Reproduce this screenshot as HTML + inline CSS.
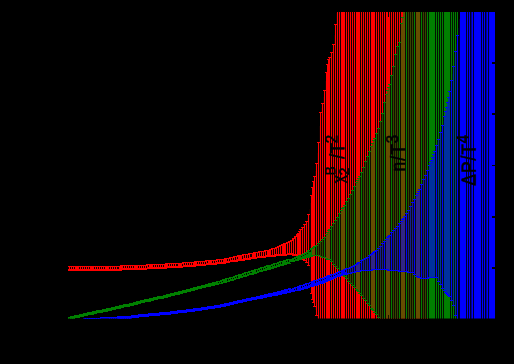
<!DOCTYPE html>
<html><head><meta charset="utf-8"><title>plot</title>
<style>html,body{margin:0;padding:0;background:#000;}body{width:514px;height:364px;overflow:hidden;font-family:"Liberation Sans",sans-serif;}</style>
</head><body>
<svg width="514" height="364" viewBox="0 0 514 364" style="display:block">
<rect width="514" height="364" fill="#000"/>
<defs><clipPath id="cp"><rect x="68" y="12" width="427" height="306.5"/></clipPath></defs>
<g clip-path="url(#cp)">
<g fill="#ff0000" stroke="none" shape-rendering="crispEdges">
<rect x="68" y="266.0" width="1" height="5.0" fill-opacity="0.08"/>
<rect x="68" y="269.0" width="1" height="2.0"/>
<rect x="68" y="266.0" width="1" height="1"/>
<rect x="69" y="266.0" width="1" height="5.0"/>
<rect x="68" y="266.0" width="3" height="1"/>
<rect x="68" y="270.0" width="3" height="1"/>
<rect x="70" y="266.0" width="1" height="5.0" fill-opacity="0.08"/>
<rect x="70" y="269.0" width="1" height="2.0"/>
<rect x="70" y="266.0" width="1" height="1"/>
<rect x="71" y="266.0" width="1" height="5.0"/>
<rect x="70" y="266.0" width="3" height="1"/>
<rect x="70" y="270.0" width="3" height="1"/>
<rect x="72" y="266.0" width="1" height="5.0" fill-opacity="0.08"/>
<rect x="72" y="269.0" width="1" height="2.0"/>
<rect x="72" y="266.0" width="1" height="1"/>
<rect x="73" y="266.0" width="1" height="5.0"/>
<rect x="72" y="266.0" width="3" height="1"/>
<rect x="72" y="270.0" width="3" height="1"/>
<rect x="74" y="266.0" width="1" height="5.0" fill-opacity="0.08"/>
<rect x="74" y="269.0" width="1" height="2.0"/>
<rect x="74" y="266.0" width="1" height="1"/>
<rect x="75" y="266.0" width="1" height="5.0"/>
<rect x="74" y="266.0" width="3" height="1"/>
<rect x="74" y="270.0" width="3" height="1"/>
<rect x="76" y="266.0" width="1" height="5.0"/>
<rect x="75" y="266.0" width="3" height="1"/>
<rect x="75" y="270.0" width="3" height="1"/>
<rect x="77" y="266.0" width="1" height="5.0"/>
<rect x="76" y="266.0" width="3" height="1"/>
<rect x="76" y="270.0" width="3" height="1"/>
<rect x="78" y="266.0" width="1" height="5.0"/>
<rect x="77" y="266.0" width="3" height="1"/>
<rect x="77" y="270.0" width="3" height="1"/>
<rect x="79" y="266.0" width="1" height="5.0" fill-opacity="0.08"/>
<rect x="79" y="269.0" width="1" height="2.0"/>
<rect x="79" y="266.0" width="1" height="1"/>
<rect x="80" y="266.0" width="1" height="5.0"/>
<rect x="79" y="266.0" width="3" height="1"/>
<rect x="79" y="270.0" width="3" height="1"/>
<rect x="81" y="266.0" width="1" height="5.0" fill-opacity="0.08"/>
<rect x="81" y="269.0" width="1" height="2.0"/>
<rect x="81" y="266.0" width="1" height="1"/>
<rect x="82" y="266.0" width="1" height="5.0"/>
<rect x="81" y="266.0" width="3" height="1"/>
<rect x="81" y="270.0" width="3" height="1"/>
<rect x="83" y="266.0" width="1" height="5.0" fill-opacity="0.08"/>
<rect x="83" y="269.0" width="1" height="2.0"/>
<rect x="83" y="266.0" width="1" height="1"/>
<rect x="84" y="266.0" width="1" height="5.0"/>
<rect x="83" y="266.0" width="3" height="1"/>
<rect x="83" y="270.0" width="3" height="1"/>
<rect x="85" y="266.0" width="1" height="5.0" fill-opacity="0.08"/>
<rect x="85" y="269.0" width="1" height="2.0"/>
<rect x="85" y="266.0" width="1" height="1"/>
<rect x="86" y="266.0" width="1" height="5.0"/>
<rect x="85" y="266.0" width="3" height="1"/>
<rect x="85" y="270.0" width="3" height="1"/>
<rect x="87" y="266.0" width="1" height="5.0" fill-opacity="0.08"/>
<rect x="87" y="269.0" width="1" height="2.0"/>
<rect x="87" y="266.0" width="1" height="1"/>
<rect x="88" y="266.0" width="1" height="5.0"/>
<rect x="87" y="266.0" width="3" height="1"/>
<rect x="87" y="270.0" width="3" height="1"/>
<rect x="89" y="266.0" width="1" height="5.0" fill-opacity="0.08"/>
<rect x="89" y="269.0" width="1" height="2.0"/>
<rect x="89" y="266.0" width="1" height="1"/>
<rect x="90" y="266.0" width="1" height="5.0"/>
<rect x="89" y="266.0" width="3" height="1"/>
<rect x="89" y="270.0" width="3" height="1"/>
<rect x="91" y="266.0" width="1" height="5.0"/>
<rect x="90" y="266.0" width="3" height="1"/>
<rect x="90" y="270.0" width="3" height="1"/>
<rect x="92" y="266.0" width="1" height="5.0"/>
<rect x="91" y="266.0" width="3" height="1"/>
<rect x="91" y="270.0" width="3" height="1"/>
<rect x="93" y="266.0" width="1" height="5.0"/>
<rect x="92" y="266.0" width="3" height="1"/>
<rect x="92" y="270.0" width="3" height="1"/>
<rect x="94" y="266.0" width="1" height="5.0" fill-opacity="0.08"/>
<rect x="94" y="269.0" width="1" height="2.0"/>
<rect x="94" y="266.0" width="1" height="1"/>
<rect x="95" y="266.0" width="1" height="5.0"/>
<rect x="94" y="266.0" width="3" height="1"/>
<rect x="94" y="270.0" width="3" height="1"/>
<rect x="96" y="266.0" width="1" height="5.0" fill-opacity="0.08"/>
<rect x="96" y="269.0" width="1" height="2.0"/>
<rect x="96" y="266.0" width="1" height="1"/>
<rect x="97" y="266.0" width="1" height="5.0"/>
<rect x="96" y="266.0" width="3" height="1"/>
<rect x="96" y="270.0" width="3" height="1"/>
<rect x="98" y="266.0" width="1" height="5.0" fill-opacity="0.08"/>
<rect x="98" y="269.0" width="1" height="2.0"/>
<rect x="98" y="266.0" width="1" height="1"/>
<rect x="99" y="266.0" width="1" height="5.0"/>
<rect x="98" y="266.0" width="3" height="1"/>
<rect x="98" y="270.0" width="3" height="1"/>
<rect x="100" y="266.0" width="1" height="5.0" fill-opacity="0.08"/>
<rect x="100" y="269.0" width="1" height="2.0"/>
<rect x="100" y="266.0" width="1" height="1"/>
<rect x="101" y="266.0" width="1" height="5.0"/>
<rect x="100" y="266.0" width="3" height="1"/>
<rect x="100" y="270.0" width="3" height="1"/>
<rect x="102" y="266.0" width="1" height="5.0" fill-opacity="0.08"/>
<rect x="102" y="269.0" width="1" height="2.0"/>
<rect x="102" y="266.0" width="1" height="1"/>
<rect x="103" y="266.0" width="1" height="5.0"/>
<rect x="102" y="266.0" width="3" height="1"/>
<rect x="102" y="270.0" width="3" height="1"/>
<rect x="104" y="266.0" width="1" height="5.0" fill-opacity="0.08"/>
<rect x="104" y="269.0" width="1" height="2.0"/>
<rect x="104" y="266.0" width="1" height="1"/>
<rect x="105" y="266.0" width="1" height="5.0"/>
<rect x="104" y="266.0" width="3" height="1"/>
<rect x="104" y="270.0" width="3" height="1"/>
<rect x="106" y="265.9" width="1" height="5.0"/>
<rect x="105" y="265.9" width="3" height="1"/>
<rect x="105" y="269.9" width="3" height="1"/>
<rect x="107" y="265.9" width="1" height="5.0"/>
<rect x="106" y="265.9" width="3" height="1"/>
<rect x="106" y="269.9" width="3" height="1"/>
<rect x="108" y="265.9" width="1" height="5.0"/>
<rect x="107" y="265.9" width="3" height="1"/>
<rect x="107" y="269.9" width="3" height="1"/>
<rect x="109" y="265.8" width="1" height="5.0" fill-opacity="0.08"/>
<rect x="109" y="268.8" width="1" height="2.0"/>
<rect x="109" y="265.8" width="1" height="1"/>
<rect x="110" y="265.8" width="1" height="5.0"/>
<rect x="109" y="265.8" width="3" height="1"/>
<rect x="109" y="269.8" width="3" height="1"/>
<rect x="111" y="265.8" width="1" height="5.0" fill-opacity="0.08"/>
<rect x="111" y="268.8" width="1" height="2.0"/>
<rect x="111" y="265.8" width="1" height="1"/>
<rect x="112" y="265.7" width="1" height="5.0"/>
<rect x="111" y="265.7" width="3" height="1"/>
<rect x="111" y="269.7" width="3" height="1"/>
<rect x="113" y="265.7" width="1" height="5.0" fill-opacity="0.08"/>
<rect x="113" y="268.7" width="1" height="2.0"/>
<rect x="113" y="265.7" width="1" height="1"/>
<rect x="114" y="265.7" width="1" height="5.0"/>
<rect x="113" y="265.7" width="3" height="1"/>
<rect x="113" y="269.7" width="3" height="1"/>
<rect x="115" y="265.6" width="1" height="5.0" fill-opacity="0.08"/>
<rect x="115" y="268.6" width="1" height="2.0"/>
<rect x="115" y="265.6" width="1" height="1"/>
<rect x="116" y="265.6" width="1" height="5.0"/>
<rect x="115" y="265.6" width="3" height="1"/>
<rect x="115" y="269.6" width="3" height="1"/>
<rect x="117" y="265.6" width="1" height="5.0" fill-opacity="0.08"/>
<rect x="117" y="268.6" width="1" height="2.0"/>
<rect x="117" y="265.6" width="1" height="1"/>
<rect x="118" y="265.5" width="1" height="5.0" fill-opacity="0.08"/>
<rect x="118" y="268.5" width="1" height="2.0"/>
<rect x="118" y="265.5" width="1" height="1"/>
<rect x="119" y="265.5" width="1" height="5.0"/>
<rect x="118" y="265.5" width="3" height="1"/>
<rect x="118" y="269.5" width="3" height="1"/>
<rect x="120" y="265.5" width="1" height="5.0"/>
<rect x="119" y="265.5" width="3" height="1"/>
<rect x="119" y="269.5" width="3" height="1"/>
<rect x="121" y="265.4" width="1" height="5.0"/>
<rect x="120" y="265.4" width="3" height="1"/>
<rect x="120" y="269.4" width="3" height="1"/>
<rect x="122" y="265.4" width="1" height="5.0"/>
<rect x="121" y="265.4" width="3" height="1"/>
<rect x="121" y="269.4" width="3" height="1"/>
<rect x="123" y="265.4" width="1" height="5.0" fill-opacity="0.08"/>
<rect x="123" y="268.4" width="1" height="2.0"/>
<rect x="123" y="265.4" width="1" height="1"/>
<rect x="124" y="265.3" width="1" height="5.0"/>
<rect x="123" y="265.3" width="3" height="1"/>
<rect x="123" y="269.3" width="3" height="1"/>
<rect x="125" y="265.3" width="1" height="5.0" fill-opacity="0.08"/>
<rect x="125" y="268.3" width="1" height="2.0"/>
<rect x="125" y="265.3" width="1" height="1"/>
<rect x="126" y="265.3" width="1" height="5.0"/>
<rect x="125" y="265.3" width="3" height="1"/>
<rect x="125" y="269.3" width="3" height="1"/>
<rect x="127" y="265.2" width="1" height="5.0" fill-opacity="0.08"/>
<rect x="127" y="268.2" width="1" height="2.0"/>
<rect x="127" y="265.2" width="1" height="1"/>
<rect x="128" y="265.2" width="1" height="5.0"/>
<rect x="127" y="265.2" width="3" height="1"/>
<rect x="127" y="269.2" width="3" height="1"/>
<rect x="129" y="265.2" width="1" height="5.0" fill-opacity="0.08"/>
<rect x="129" y="268.2" width="1" height="2.0"/>
<rect x="129" y="265.2" width="1" height="1"/>
<rect x="130" y="265.1" width="1" height="5.0"/>
<rect x="129" y="265.1" width="3" height="1"/>
<rect x="129" y="269.1" width="3" height="1"/>
<rect x="131" y="265.1" width="1" height="5.0" fill-opacity="0.08"/>
<rect x="131" y="268.1" width="1" height="2.0"/>
<rect x="131" y="265.1" width="1" height="1"/>
<rect x="132" y="265.1" width="1" height="5.0"/>
<rect x="131" y="265.1" width="3" height="1"/>
<rect x="131" y="269.1" width="3" height="1"/>
<rect x="133" y="265.0" width="1" height="5.0" fill-opacity="0.08"/>
<rect x="133" y="268.0" width="1" height="2.0"/>
<rect x="133" y="265.0" width="1" height="1"/>
<rect x="134" y="265.0" width="1" height="5.0"/>
<rect x="133" y="265.0" width="3" height="1"/>
<rect x="133" y="269.0" width="3" height="1"/>
<rect x="135" y="265.0" width="1" height="5.0"/>
<rect x="134" y="265.0" width="3" height="1"/>
<rect x="134" y="269.0" width="3" height="1"/>
<rect x="136" y="264.9" width="1" height="5.0"/>
<rect x="135" y="264.9" width="3" height="1"/>
<rect x="135" y="268.9" width="3" height="1"/>
<rect x="137" y="264.9" width="1" height="5.0"/>
<rect x="136" y="264.9" width="3" height="1"/>
<rect x="136" y="268.9" width="3" height="1"/>
<rect x="138" y="264.9" width="1" height="5.0" fill-opacity="0.08"/>
<rect x="138" y="267.9" width="1" height="2.0"/>
<rect x="138" y="264.9" width="1" height="1"/>
<rect x="139" y="264.8" width="1" height="5.0"/>
<rect x="138" y="264.8" width="3" height="1"/>
<rect x="138" y="268.8" width="3" height="1"/>
<rect x="140" y="264.8" width="1" height="5.0" fill-opacity="0.08"/>
<rect x="140" y="267.8" width="1" height="2.0"/>
<rect x="140" y="264.8" width="1" height="1"/>
<rect x="141" y="264.7" width="1" height="5.0"/>
<rect x="140" y="264.7" width="3" height="1"/>
<rect x="140" y="268.7" width="3" height="1"/>
<rect x="142" y="264.7" width="1" height="5.0" fill-opacity="0.08"/>
<rect x="142" y="267.7" width="1" height="2.0"/>
<rect x="142" y="264.7" width="1" height="1"/>
<rect x="143" y="264.6" width="1" height="5.0"/>
<rect x="142" y="264.6" width="3" height="1"/>
<rect x="142" y="268.6" width="3" height="1"/>
<rect x="144" y="264.6" width="1" height="5.0" fill-opacity="0.08"/>
<rect x="144" y="267.6" width="1" height="2.0"/>
<rect x="144" y="264.6" width="1" height="1"/>
<rect x="145" y="264.5" width="1" height="5.0"/>
<rect x="144" y="264.5" width="3" height="1"/>
<rect x="144" y="268.5" width="3" height="1"/>
<rect x="146" y="264.5" width="1" height="5.0" fill-opacity="0.08"/>
<rect x="146" y="267.5" width="1" height="2.0"/>
<rect x="146" y="264.5" width="1" height="1"/>
<rect x="147" y="264.4" width="1" height="5.0"/>
<rect x="146" y="264.4" width="3" height="1"/>
<rect x="146" y="268.4" width="3" height="1"/>
<rect x="148" y="264.4" width="1" height="5.0" fill-opacity="0.08"/>
<rect x="148" y="267.4" width="1" height="2.0"/>
<rect x="148" y="264.4" width="1" height="1"/>
<rect x="149" y="264.3" width="1" height="5.0"/>
<rect x="148" y="264.3" width="3" height="1"/>
<rect x="148" y="268.3" width="3" height="1"/>
<rect x="150" y="264.3" width="1" height="5.0"/>
<rect x="149" y="264.3" width="3" height="1"/>
<rect x="149" y="268.3" width="3" height="1"/>
<rect x="151" y="264.2" width="1" height="5.0"/>
<rect x="150" y="264.2" width="3" height="1"/>
<rect x="150" y="268.2" width="3" height="1"/>
<rect x="152" y="264.2" width="1" height="5.0"/>
<rect x="151" y="264.2" width="3" height="1"/>
<rect x="151" y="268.2" width="3" height="1"/>
<rect x="153" y="264.1" width="1" height="5.0" fill-opacity="0.08"/>
<rect x="153" y="267.1" width="1" height="2.0"/>
<rect x="153" y="264.1" width="1" height="1"/>
<rect x="154" y="264.1" width="1" height="5.0"/>
<rect x="153" y="264.1" width="3" height="1"/>
<rect x="153" y="268.1" width="3" height="1"/>
<rect x="155" y="264.0" width="1" height="5.0" fill-opacity="0.08"/>
<rect x="155" y="267.0" width="1" height="2.0"/>
<rect x="155" y="264.0" width="1" height="1"/>
<rect x="156" y="263.9" width="1" height="5.0"/>
<rect x="155" y="263.9" width="3" height="1"/>
<rect x="155" y="267.9" width="3" height="1"/>
<rect x="157" y="263.9" width="1" height="5.0" fill-opacity="0.08"/>
<rect x="157" y="266.9" width="1" height="2.0"/>
<rect x="157" y="263.9" width="1" height="1"/>
<rect x="158" y="263.8" width="1" height="5.0"/>
<rect x="157" y="263.8" width="3" height="1"/>
<rect x="157" y="267.8" width="3" height="1"/>
<rect x="159" y="263.8" width="1" height="5.0" fill-opacity="0.08"/>
<rect x="159" y="266.8" width="1" height="2.0"/>
<rect x="159" y="263.8" width="1" height="1"/>
<rect x="160" y="263.7" width="1" height="5.0"/>
<rect x="159" y="263.7" width="3" height="1"/>
<rect x="159" y="267.7" width="3" height="1"/>
<rect x="161" y="263.7" width="1" height="5.0" fill-opacity="0.08"/>
<rect x="161" y="266.7" width="1" height="2.0"/>
<rect x="161" y="263.7" width="1" height="1"/>
<rect x="162" y="263.6" width="1" height="5.0"/>
<rect x="161" y="263.6" width="3" height="1"/>
<rect x="161" y="267.6" width="3" height="1"/>
<rect x="163" y="263.6" width="1" height="5.0" fill-opacity="0.08"/>
<rect x="163" y="266.6" width="1" height="2.0"/>
<rect x="163" y="263.6" width="1" height="1"/>
<rect x="164" y="263.5" width="1" height="5.0"/>
<rect x="163" y="263.5" width="3" height="1"/>
<rect x="163" y="267.5" width="3" height="1"/>
<rect x="165" y="263.5" width="1" height="5.0"/>
<rect x="164" y="263.5" width="3" height="1"/>
<rect x="164" y="267.5" width="3" height="1"/>
<rect x="166" y="263.4" width="1" height="5.0"/>
<rect x="165" y="263.4" width="3" height="1"/>
<rect x="165" y="267.4" width="3" height="1"/>
<rect x="167" y="263.4" width="1" height="5.0"/>
<rect x="166" y="263.4" width="3" height="1"/>
<rect x="166" y="267.4" width="3" height="1"/>
<rect x="168" y="263.3" width="1" height="5.0" fill-opacity="0.08"/>
<rect x="168" y="266.3" width="1" height="2.0"/>
<rect x="168" y="263.3" width="1" height="1"/>
<rect x="169" y="263.3" width="1" height="5.0"/>
<rect x="168" y="263.3" width="3" height="1"/>
<rect x="168" y="267.3" width="3" height="1"/>
<rect x="170" y="263.2" width="1" height="5.0" fill-opacity="0.08"/>
<rect x="170" y="266.2" width="1" height="2.0"/>
<rect x="170" y="263.2" width="1" height="1"/>
<rect x="171" y="263.1" width="1" height="5.0"/>
<rect x="170" y="263.1" width="3" height="1"/>
<rect x="170" y="267.1" width="3" height="1"/>
<rect x="172" y="263.1" width="1" height="5.0" fill-opacity="0.08"/>
<rect x="172" y="266.1" width="1" height="2.0"/>
<rect x="172" y="263.1" width="1" height="1"/>
<rect x="173" y="263.0" width="1" height="5.0"/>
<rect x="172" y="263.0" width="3" height="1"/>
<rect x="172" y="267.0" width="3" height="1"/>
<rect x="174" y="263.0" width="1" height="5.0" fill-opacity="0.08"/>
<rect x="174" y="266.0" width="1" height="2.0"/>
<rect x="174" y="263.0" width="1" height="1"/>
<rect x="175" y="262.9" width="1" height="5.0"/>
<rect x="174" y="262.9" width="3" height="1"/>
<rect x="174" y="266.9" width="3" height="1"/>
<rect x="176" y="262.8" width="1" height="5.0" fill-opacity="0.08"/>
<rect x="176" y="265.8" width="1" height="2.0"/>
<rect x="176" y="262.8" width="1" height="1"/>
<rect x="177" y="262.8" width="1" height="5.0" fill-opacity="0.08"/>
<rect x="177" y="265.8" width="1" height="2.0"/>
<rect x="177" y="262.8" width="1" height="1"/>
<rect x="178" y="262.7" width="1" height="5.0"/>
<rect x="177" y="262.7" width="3" height="1"/>
<rect x="177" y="266.7" width="3" height="1"/>
<rect x="179" y="262.6" width="1" height="5.0"/>
<rect x="178" y="262.6" width="3" height="1"/>
<rect x="178" y="266.6" width="3" height="1"/>
<rect x="180" y="262.6" width="1" height="5.0"/>
<rect x="179" y="262.6" width="3" height="1"/>
<rect x="179" y="266.6" width="3" height="1"/>
<rect x="181" y="262.5" width="1" height="5.0"/>
<rect x="180" y="262.5" width="3" height="1"/>
<rect x="180" y="266.5" width="3" height="1"/>
<rect x="182" y="262.5" width="1" height="5.0" fill-opacity="0.08"/>
<rect x="182" y="265.5" width="1" height="2.0"/>
<rect x="182" y="262.5" width="1" height="1"/>
<rect x="183" y="262.4" width="1" height="5.0"/>
<rect x="182" y="262.4" width="3" height="1"/>
<rect x="182" y="266.4" width="3" height="1"/>
<rect x="184" y="262.3" width="1" height="5.0" fill-opacity="0.08"/>
<rect x="184" y="265.3" width="1" height="2.0"/>
<rect x="184" y="262.3" width="1" height="1"/>
<rect x="185" y="262.3" width="1" height="5.0"/>
<rect x="184" y="262.3" width="3" height="1"/>
<rect x="184" y="266.3" width="3" height="1"/>
<rect x="186" y="262.2" width="1" height="5.0" fill-opacity="0.08"/>
<rect x="186" y="265.2" width="1" height="2.0"/>
<rect x="186" y="262.2" width="1" height="1"/>
<rect x="187" y="262.2" width="1" height="5.0"/>
<rect x="186" y="262.2" width="3" height="1"/>
<rect x="186" y="266.2" width="3" height="1"/>
<rect x="188" y="262.1" width="1" height="5.0" fill-opacity="0.08"/>
<rect x="188" y="265.1" width="1" height="2.0"/>
<rect x="188" y="262.1" width="1" height="1"/>
<rect x="189" y="262.0" width="1" height="5.0"/>
<rect x="188" y="262.0" width="3" height="1"/>
<rect x="188" y="266.0" width="3" height="1"/>
<rect x="190" y="261.9" width="1" height="5.0" fill-opacity="0.08"/>
<rect x="190" y="264.9" width="1" height="2.0"/>
<rect x="190" y="261.9" width="1" height="1"/>
<rect x="191" y="261.9" width="1" height="5.0"/>
<rect x="190" y="261.9" width="3" height="1"/>
<rect x="190" y="265.9" width="3" height="1"/>
<rect x="192" y="261.8" width="1" height="5.0" fill-opacity="0.08"/>
<rect x="192" y="264.8" width="1" height="2.0"/>
<rect x="192" y="261.8" width="1" height="1"/>
<rect x="193" y="261.6" width="1" height="5.0"/>
<rect x="192" y="261.6" width="3" height="1"/>
<rect x="192" y="265.6" width="3" height="1"/>
<rect x="194" y="261.6" width="1" height="5.0"/>
<rect x="193" y="261.6" width="3" height="1"/>
<rect x="193" y="265.6" width="3" height="1"/>
<rect x="195" y="261.4" width="1" height="5.0"/>
<rect x="194" y="261.4" width="3" height="1"/>
<rect x="194" y="265.4" width="3" height="1"/>
<rect x="196" y="261.4" width="1" height="5.0"/>
<rect x="195" y="261.4" width="3" height="1"/>
<rect x="195" y="265.4" width="3" height="1"/>
<rect x="197" y="261.2" width="1" height="5.0" fill-opacity="0.08"/>
<rect x="197" y="264.2" width="1" height="2.0"/>
<rect x="197" y="261.2" width="1" height="1"/>
<rect x="198" y="261.1" width="1" height="5.0"/>
<rect x="197" y="261.1" width="3" height="1"/>
<rect x="197" y="265.1" width="3" height="1"/>
<rect x="199" y="261.1" width="1" height="5.0" fill-opacity="0.08"/>
<rect x="199" y="264.1" width="1" height="2.0"/>
<rect x="199" y="261.1" width="1" height="1"/>
<rect x="200" y="261.0" width="1" height="5.0"/>
<rect x="199" y="261.0" width="3" height="1"/>
<rect x="199" y="265.0" width="3" height="1"/>
<rect x="201" y="260.9" width="1" height="5.0" fill-opacity="0.08"/>
<rect x="201" y="263.9" width="1" height="2.0"/>
<rect x="201" y="260.9" width="1" height="1"/>
<rect x="202" y="260.8" width="1" height="5.0"/>
<rect x="201" y="260.8" width="3" height="1"/>
<rect x="201" y="264.8" width="3" height="1"/>
<rect x="203" y="260.7" width="1" height="5.0" fill-opacity="0.08"/>
<rect x="203" y="263.7" width="1" height="2.0"/>
<rect x="203" y="260.7" width="1" height="1"/>
<rect x="204" y="260.6" width="1" height="5.0"/>
<rect x="203" y="260.6" width="3" height="1"/>
<rect x="203" y="264.6" width="3" height="1"/>
<rect x="205" y="260.5" width="1" height="5.0" fill-opacity="0.08"/>
<rect x="205" y="263.5" width="1" height="2.0"/>
<rect x="205" y="260.5" width="1" height="1"/>
<rect x="206" y="260.4" width="1" height="5.0"/>
<rect x="205" y="260.4" width="3" height="1"/>
<rect x="205" y="264.4" width="3" height="1"/>
<rect x="207" y="260.3" width="1" height="5.0" fill-opacity="0.08"/>
<rect x="207" y="263.3" width="1" height="2.0"/>
<rect x="207" y="260.3" width="1" height="1"/>
<rect x="208" y="260.2" width="1" height="5.0"/>
<rect x="207" y="260.2" width="3" height="1"/>
<rect x="207" y="264.2" width="3" height="1"/>
<rect x="209" y="260.1" width="1" height="5.0"/>
<rect x="208" y="260.1" width="3" height="1"/>
<rect x="208" y="264.1" width="3" height="1"/>
<rect x="210" y="260.0" width="1" height="5.0"/>
<rect x="209" y="260.0" width="3" height="1"/>
<rect x="209" y="264.0" width="3" height="1"/>
<rect x="211" y="259.9" width="1" height="5.0"/>
<rect x="210" y="259.9" width="3" height="1"/>
<rect x="210" y="263.9" width="3" height="1"/>
<rect x="212" y="259.8" width="1" height="5.0" fill-opacity="0.08"/>
<rect x="212" y="262.8" width="1" height="2.0"/>
<rect x="212" y="259.8" width="1" height="1"/>
<rect x="213" y="259.7" width="1" height="5.0"/>
<rect x="212" y="259.7" width="3" height="1"/>
<rect x="212" y="263.7" width="3" height="1"/>
<rect x="214" y="259.6" width="1" height="5.0" fill-opacity="0.08"/>
<rect x="214" y="262.6" width="1" height="2.0"/>
<rect x="214" y="259.6" width="1" height="1"/>
<rect x="215" y="259.5" width="1" height="5.0"/>
<rect x="214" y="259.5" width="3" height="1"/>
<rect x="214" y="263.5" width="3" height="1"/>
<rect x="216" y="259.4" width="1" height="5.0" fill-opacity="0.08"/>
<rect x="216" y="262.4" width="1" height="2.0"/>
<rect x="216" y="259.4" width="1" height="1"/>
<rect x="217" y="259.3" width="1" height="5.0"/>
<rect x="216" y="259.3" width="3" height="1"/>
<rect x="216" y="263.3" width="3" height="1"/>
<rect x="218" y="259.2" width="1" height="5.0" fill-opacity="0.08"/>
<rect x="218" y="262.2" width="1" height="2.0"/>
<rect x="218" y="259.2" width="1" height="1"/>
<rect x="219" y="259.1" width="1" height="5.0"/>
<rect x="218" y="259.1" width="3" height="1"/>
<rect x="218" y="263.1" width="3" height="1"/>
<rect x="220" y="259.0" width="1" height="5.0" fill-opacity="0.08"/>
<rect x="220" y="262.0" width="1" height="2.0"/>
<rect x="220" y="259.0" width="1" height="1"/>
<rect x="221" y="258.9" width="1" height="5.0"/>
<rect x="220" y="258.9" width="3" height="1"/>
<rect x="220" y="262.9" width="3" height="1"/>
<rect x="222" y="258.8" width="1" height="5.0" fill-opacity="0.08"/>
<rect x="222" y="261.8" width="1" height="2.0"/>
<rect x="222" y="258.8" width="1" height="1"/>
<rect x="223" y="258.6" width="1" height="5.0"/>
<rect x="222" y="258.6" width="3" height="1"/>
<rect x="222" y="262.6" width="3" height="1"/>
<rect x="224" y="258.5" width="1" height="5.0"/>
<rect x="223" y="258.5" width="3" height="1"/>
<rect x="223" y="262.5" width="3" height="1"/>
<rect x="225" y="258.3" width="1" height="5.0"/>
<rect x="224" y="258.3" width="3" height="1"/>
<rect x="224" y="262.3" width="3" height="1"/>
<rect x="226" y="258.2" width="1" height="5.0"/>
<rect x="225" y="258.2" width="3" height="1"/>
<rect x="225" y="262.2" width="3" height="1"/>
<rect x="227" y="258.1" width="1" height="5.0" fill-opacity="0.08"/>
<rect x="227" y="261.1" width="1" height="2.0"/>
<rect x="227" y="258.1" width="1" height="1"/>
<rect x="228" y="257.9" width="1" height="5.0"/>
<rect x="227" y="257.9" width="3" height="1"/>
<rect x="227" y="261.9" width="3" height="1"/>
<rect x="229" y="257.8" width="1" height="5.0" fill-opacity="0.08"/>
<rect x="229" y="260.8" width="1" height="2.0"/>
<rect x="229" y="257.8" width="1" height="1"/>
<rect x="230" y="256.9" width="1" height="5.5"/>
<rect x="229" y="256.9" width="3" height="1"/>
<rect x="229" y="261.4" width="3" height="1"/>
<rect x="231" y="256.7" width="1" height="5.6" fill-opacity="0.08"/>
<rect x="231" y="260.3" width="1" height="2.0"/>
<rect x="231" y="256.7" width="1" height="1"/>
<rect x="232" y="256.5" width="1" height="5.6"/>
<rect x="231" y="256.5" width="3" height="1"/>
<rect x="231" y="261.1" width="3" height="1"/>
<rect x="233" y="256.3" width="1" height="5.6" fill-opacity="0.08"/>
<rect x="233" y="260.0" width="1" height="2.0"/>
<rect x="233" y="256.3" width="1" height="1"/>
<rect x="234" y="256.1" width="1" height="5.7"/>
<rect x="233" y="256.1" width="3" height="1"/>
<rect x="233" y="260.8" width="3" height="1"/>
<rect x="235" y="256.0" width="1" height="5.7" fill-opacity="0.08"/>
<rect x="235" y="259.7" width="1" height="2.0"/>
<rect x="235" y="256.0" width="1" height="1"/>
<rect x="236" y="255.8" width="1" height="5.8"/>
<rect x="235" y="255.8" width="3" height="1"/>
<rect x="235" y="260.5" width="3" height="1"/>
<rect x="237" y="255.6" width="1" height="5.8" fill-opacity="0.08"/>
<rect x="237" y="259.4" width="1" height="2.0"/>
<rect x="237" y="255.6" width="1" height="1"/>
<rect x="238" y="255.4" width="1" height="5.8"/>
<rect x="237" y="255.4" width="3" height="1"/>
<rect x="237" y="260.2" width="3" height="1"/>
<rect x="239" y="255.2" width="1" height="5.9"/>
<rect x="238" y="255.2" width="3" height="1"/>
<rect x="238" y="260.1" width="3" height="1"/>
<rect x="240" y="255.0" width="1" height="5.9"/>
<rect x="239" y="255.0" width="3" height="1"/>
<rect x="239" y="259.9" width="3" height="1"/>
<rect x="241" y="254.8" width="1" height="6.0"/>
<rect x="240" y="254.8" width="3" height="1"/>
<rect x="240" y="259.8" width="3" height="1"/>
<rect x="242" y="254.6" width="1" height="6.0" fill-opacity="0.08"/>
<rect x="242" y="258.6" width="1" height="2.0"/>
<rect x="242" y="254.6" width="1" height="1"/>
<rect x="243" y="254.4" width="1" height="6.0"/>
<rect x="242" y="254.4" width="3" height="1"/>
<rect x="242" y="259.5" width="3" height="1"/>
<rect x="244" y="254.2" width="1" height="6.1" fill-opacity="0.08"/>
<rect x="244" y="258.3" width="1" height="2.0"/>
<rect x="244" y="254.2" width="1" height="1"/>
<rect x="245" y="254.1" width="1" height="6.1"/>
<rect x="244" y="254.1" width="3" height="1"/>
<rect x="244" y="259.2" width="3" height="1"/>
<rect x="246" y="253.9" width="1" height="6.2" fill-opacity="0.08"/>
<rect x="246" y="258.0" width="1" height="2.0"/>
<rect x="246" y="253.9" width="1" height="1"/>
<rect x="247" y="253.7" width="1" height="6.2"/>
<rect x="246" y="253.7" width="3" height="1"/>
<rect x="246" y="258.9" width="3" height="1"/>
<rect x="248" y="253.5" width="1" height="6.2" fill-opacity="0.08"/>
<rect x="248" y="257.7" width="1" height="2.0"/>
<rect x="248" y="253.5" width="1" height="1"/>
<rect x="249" y="253.3" width="1" height="6.3"/>
<rect x="248" y="253.3" width="3" height="1"/>
<rect x="248" y="258.6" width="3" height="1"/>
<rect x="250" y="253.1" width="1" height="6.3" fill-opacity="0.08"/>
<rect x="250" y="257.4" width="1" height="2.0"/>
<rect x="250" y="253.1" width="1" height="1"/>
<rect x="251" y="252.9" width="1" height="6.4" fill-opacity="0.08"/>
<rect x="251" y="257.3" width="1" height="2.0"/>
<rect x="251" y="252.9" width="1" height="1"/>
<rect x="252" y="252.7" width="1" height="6.4"/>
<rect x="251" y="252.7" width="3" height="1"/>
<rect x="251" y="258.1" width="3" height="1"/>
<rect x="253" y="252.5" width="1" height="6.4"/>
<rect x="252" y="252.5" width="3" height="1"/>
<rect x="252" y="258.0" width="3" height="1"/>
<rect x="254" y="252.3" width="1" height="6.5"/>
<rect x="253" y="252.3" width="3" height="1"/>
<rect x="253" y="257.8" width="3" height="1"/>
<rect x="255" y="252.2" width="1" height="6.5"/>
<rect x="254" y="252.2" width="3" height="1"/>
<rect x="254" y="257.7" width="3" height="1"/>
<rect x="256" y="252.0" width="1" height="6.6" fill-opacity="0.08"/>
<rect x="256" y="256.5" width="1" height="2.0"/>
<rect x="256" y="252.0" width="1" height="1"/>
<rect x="257" y="251.8" width="1" height="6.6"/>
<rect x="256" y="251.8" width="3" height="1"/>
<rect x="256" y="257.4" width="3" height="1"/>
<rect x="258" y="251.6" width="1" height="6.6" fill-opacity="0.08"/>
<rect x="258" y="256.2" width="1" height="2.0"/>
<rect x="258" y="251.6" width="1" height="1"/>
<rect x="259" y="251.4" width="1" height="6.7"/>
<rect x="258" y="251.4" width="3" height="1"/>
<rect x="258" y="257.1" width="3" height="1"/>
<rect x="260" y="251.2" width="1" height="6.7" fill-opacity="0.08"/>
<rect x="260" y="255.9" width="1" height="2.0"/>
<rect x="260" y="251.2" width="1" height="1"/>
<rect x="261" y="251.0" width="1" height="6.8"/>
<rect x="260" y="251.0" width="3" height="1"/>
<rect x="260" y="256.9" width="3" height="1"/>
<rect x="262" y="250.8" width="1" height="6.9" fill-opacity="0.08"/>
<rect x="262" y="255.8" width="1" height="2.0"/>
<rect x="262" y="250.8" width="1" height="1"/>
<rect x="263" y="250.6" width="1" height="7.0"/>
<rect x="262" y="250.6" width="3" height="1"/>
<rect x="262" y="256.6" width="3" height="1"/>
<rect x="264" y="250.4" width="1" height="7.1" fill-opacity="0.08"/>
<rect x="264" y="255.6" width="1" height="2.0"/>
<rect x="264" y="250.4" width="1" height="1"/>
<rect x="265" y="250.3" width="1" height="7.2"/>
<rect x="264" y="250.3" width="3" height="1"/>
<rect x="264" y="256.4" width="3" height="1"/>
<rect x="266" y="250.1" width="1" height="7.3" fill-opacity="0.08"/>
<rect x="266" y="255.4" width="1" height="2.0"/>
<rect x="266" y="250.1" width="1" height="1"/>
<rect x="267" y="249.9" width="1" height="7.4"/>
<rect x="266" y="249.9" width="3" height="1"/>
<rect x="266" y="256.2" width="3" height="1"/>
<rect x="268" y="249.7" width="1" height="7.5"/>
<rect x="267" y="249.7" width="3" height="1"/>
<rect x="267" y="256.1" width="3" height="1"/>
<rect x="269" y="249.5" width="1" height="7.6"/>
<rect x="268" y="249.5" width="3" height="1"/>
<rect x="268" y="256.1" width="3" height="1"/>
<rect x="270" y="249.2" width="1" height="7.7"/>
<rect x="269" y="249.2" width="3" height="1"/>
<rect x="269" y="255.9" width="3" height="1"/>
<rect x="271" y="248.8" width="1" height="8.0" fill-opacity="0.08"/>
<rect x="271" y="254.9" width="1" height="2.0"/>
<rect x="271" y="248.8" width="1" height="1"/>
<rect x="272" y="248.4" width="1" height="8.3"/>
<rect x="271" y="248.4" width="3" height="1"/>
<rect x="271" y="255.8" width="3" height="1"/>
<rect x="273" y="248.1" width="1" height="8.6" fill-opacity="0.08"/>
<rect x="273" y="254.6" width="1" height="2.0"/>
<rect x="273" y="248.1" width="1" height="1"/>
<rect x="274" y="247.7" width="1" height="8.9"/>
<rect x="273" y="247.7" width="3" height="1"/>
<rect x="273" y="255.6" width="3" height="1"/>
<rect x="275" y="247.3" width="1" height="9.1" fill-opacity="0.08"/>
<rect x="275" y="254.4" width="1" height="2.0"/>
<rect x="275" y="247.3" width="1" height="1"/>
<rect x="276" y="246.9" width="1" height="9.4"/>
<rect x="275" y="246.9" width="3" height="1"/>
<rect x="275" y="255.3" width="3" height="1"/>
<rect x="277" y="246.6" width="1" height="9.7" fill-opacity="0.08"/>
<rect x="277" y="254.2" width="1" height="2.0"/>
<rect x="277" y="246.6" width="1" height="1"/>
<rect x="278" y="246.2" width="1" height="10.0"/>
<rect x="277" y="246.2" width="3" height="1"/>
<rect x="277" y="255.2" width="3" height="1"/>
<rect x="279" y="245.8" width="1" height="10.3" fill-opacity="0.08"/>
<rect x="279" y="254.1" width="1" height="2.0"/>
<rect x="279" y="245.8" width="1" height="1"/>
<rect x="280" y="245.4" width="1" height="10.6"/>
<rect x="279" y="245.4" width="3" height="1"/>
<rect x="279" y="255.0" width="3" height="1"/>
<rect x="281" y="244.9" width="1" height="11.0" fill-opacity="0.08"/>
<rect x="281" y="253.9" width="1" height="2.0"/>
<rect x="281" y="244.9" width="1" height="1"/>
<rect x="282" y="244.4" width="1" height="11.4"/>
<rect x="281" y="244.4" width="3" height="1"/>
<rect x="281" y="254.8" width="3" height="1"/>
<rect x="283" y="243.9" width="1" height="11.8"/>
<rect x="282" y="243.9" width="3" height="1"/>
<rect x="282" y="254.7" width="3" height="1"/>
<rect x="284" y="243.4" width="1" height="12.2"/>
<rect x="283" y="243.4" width="3" height="1"/>
<rect x="283" y="254.6" width="3" height="1"/>
<rect x="285" y="243.0" width="1" height="12.6"/>
<rect x="284" y="243.0" width="3" height="1"/>
<rect x="284" y="254.6" width="3" height="1"/>
<rect x="286" y="242.5" width="1" height="13.0" fill-opacity="0.08"/>
<rect x="286" y="253.5" width="1" height="2.0"/>
<rect x="286" y="242.5" width="1" height="1"/>
<rect x="287" y="242.0" width="1" height="13.4"/>
<rect x="286" y="242.0" width="3" height="1"/>
<rect x="286" y="254.4" width="3" height="1"/>
<rect x="288" y="241.5" width="1" height="13.8" fill-opacity="0.08"/>
<rect x="288" y="253.3" width="1" height="2.0"/>
<rect x="288" y="241.5" width="1" height="1"/>
<rect x="289" y="241.0" width="1" height="14.2"/>
<rect x="288" y="241.0" width="3" height="1"/>
<rect x="288" y="254.2" width="3" height="1"/>
<rect x="290" y="240.4" width="1" height="14.8" fill-opacity="0.08"/>
<rect x="290" y="253.2" width="1" height="2.0"/>
<rect x="290" y="240.4" width="1" height="1"/>
<rect x="291" y="239.7" width="1" height="15.7"/>
<rect x="290" y="239.7" width="3" height="1"/>
<rect x="290" y="254.3" width="3" height="1"/>
<rect x="292" y="238.9" width="1" height="16.5" fill-opacity="0.08"/>
<rect x="292" y="253.4" width="1" height="2.0"/>
<rect x="292" y="238.9" width="1" height="1"/>
<rect x="293" y="238.1" width="1" height="17.3"/>
<rect x="292" y="238.1" width="3" height="1"/>
<rect x="292" y="254.5" width="3" height="1"/>
<rect x="294" y="237.4" width="1" height="18.2" fill-opacity="0.08"/>
<rect x="294" y="253.6" width="1" height="2.0"/>
<rect x="294" y="237.4" width="1" height="1"/>
<rect x="295" y="236.4" width="1" height="19.5"/>
<rect x="294" y="236.4" width="3" height="1"/>
<rect x="294" y="254.8" width="3" height="1"/>
<rect x="296" y="235.1" width="1" height="21.2" fill-opacity="0.08"/>
<rect x="296" y="254.3" width="1" height="2.0"/>
<rect x="296" y="235.1" width="1" height="1"/>
<rect x="297" y="233.8" width="1" height="23.0"/>
<rect x="296" y="233.8" width="3" height="1"/>
<rect x="296" y="255.8" width="3" height="1"/>
<rect x="298" y="232.5" width="1" height="24.8"/>
<rect x="297" y="232.5" width="3" height="1"/>
<rect x="297" y="256.3" width="3" height="1"/>
<rect x="299" y="230.9" width="1" height="26.9"/>
<rect x="298" y="230.9" width="3" height="1"/>
<rect x="298" y="256.8" width="3" height="1"/>
<rect x="300" y="229.8" width="1" height="28.1"/>
<rect x="299" y="229.3" width="3" height="1"/>
<rect x="299" y="257.4" width="3" height="1"/>
<rect x="301" y="228.4" width="1" height="30.2" fill-opacity="0.08"/>
<rect x="302" y="227.1" width="1" height="32.2"/>
<rect x="301" y="226.6" width="3" height="1"/>
<rect x="301" y="258.8" width="3" height="1"/>
<rect x="303" y="225.8" width="1" height="34.2" fill-opacity="0.08"/>
<rect x="304" y="224.5" width="1" height="36.3"/>
<rect x="303" y="224.0" width="3" height="1"/>
<rect x="303" y="260.3" width="3" height="1"/>
<rect x="305" y="223.0" width="1" height="38.7" fill-opacity="0.08"/>
<rect x="306" y="221.4" width="1" height="41.2"/>
<rect x="305" y="220.9" width="3" height="1"/>
<rect x="305" y="262.1" width="3" height="1"/>
<rect x="307" y="218.4" width="1" height="45.3" fill-opacity="0.08"/>
<rect x="308" y="214.2" width="1" height="51.1"/>
<rect x="307" y="213.7" width="3" height="1"/>
<rect x="307" y="264.8" width="3" height="1"/>
<rect x="309" y="208.9" width="1" height="60.6" fill-opacity="0.08"/>
<rect x="310" y="202.6" width="1" height="78.9" fill-opacity="0.08"/>
<rect x="311" y="195.1" width="1" height="97.9"/>
<rect x="310" y="194.6" width="3" height="1"/>
<rect x="310" y="292.5" width="3" height="1"/>
<rect x="312" y="187.4" width="1" height="111.6"/>
<rect x="311" y="186.9" width="3" height="1"/>
<rect x="311" y="298.5" width="3" height="1"/>
<rect x="313" y="181.0" width="1" height="121.7"/>
<rect x="312" y="180.5" width="3" height="1"/>
<rect x="312" y="302.2" width="3" height="1"/>
<rect x="314" y="176.0" width="1" height="130.4"/>
<rect x="313" y="175.5" width="3" height="1"/>
<rect x="313" y="305.9" width="3" height="1"/>
<rect x="315" y="171.0" width="1" height="139.1" fill-opacity="0.08"/>
<rect x="316" y="163.2" width="1" height="152.0"/>
<rect x="315" y="162.8" width="3" height="1"/>
<rect x="315" y="314.8" width="3" height="1"/>
<rect x="317" y="152.8" width="1" height="168.2" fill-opacity="0.08"/>
<rect x="318" y="142.2" width="1" height="178.8"/>
<rect x="317" y="141.8" width="3" height="1"/>
<rect x="319" y="125.5" width="1" height="195.5" fill-opacity="0.08"/>
<rect x="320" y="112.0" width="1" height="209.0"/>
<rect x="319" y="111.5" width="3" height="1"/>
<rect x="321" y="108.0" width="1" height="213.0" fill-opacity="0.08"/>
<rect x="322" y="103.2" width="1" height="217.8"/>
<rect x="321" y="102.7" width="3" height="1"/>
<rect x="323" y="97.4" width="1" height="223.6" fill-opacity="0.08"/>
<rect x="324" y="90.0" width="1" height="231.0"/>
<rect x="323" y="89.5" width="3" height="1"/>
<rect x="325" y="80.8" width="1" height="240.2" fill-opacity="0.08"/>
<rect x="326" y="72.6" width="1" height="248.4"/>
<rect x="325" y="72.1" width="3" height="1"/>
<rect x="327" y="64.7" width="1" height="256.3"/>
<rect x="326" y="64.2" width="3" height="1"/>
<rect x="328" y="59.5" width="1" height="261.5"/>
<rect x="327" y="59.0" width="3" height="1"/>
<rect x="329" y="57.1" width="1" height="263.9"/>
<rect x="328" y="56.6" width="3" height="1"/>
<rect x="330" y="54.7" width="1" height="266.3" fill-opacity="0.08"/>
<rect x="331" y="52.4" width="1" height="268.6"/>
<rect x="330" y="51.9" width="3" height="1"/>
<rect x="332" y="50.1" width="1" height="270.9" fill-opacity="0.08"/>
<rect x="333" y="44.3" width="1" height="276.7"/>
<rect x="332" y="43.8" width="3" height="1"/>
<rect x="334" y="34.9" width="1" height="286.1" fill-opacity="0.08"/>
<rect x="335" y="24.3" width="1" height="296.7"/>
<rect x="334" y="23.8" width="3" height="1"/>
<rect x="336" y="13.4" width="1" height="307.6" fill-opacity="0.08"/>
<rect x="337" y="10.0" width="1" height="311.0"/>
<rect x="338" y="10.0" width="1" height="311.0" fill-opacity="0.08"/>
<rect x="339" y="10.0" width="1" height="311.0"/>
<rect x="340" y="10.0" width="1" height="311.0" fill-opacity="0.08"/>
<rect x="341" y="10.0" width="1" height="311.0"/>
<rect x="342" y="10.0" width="1" height="311.0"/>
<rect x="343" y="10.0" width="1" height="311.0"/>
<rect x="344" y="10.0" width="1" height="311.0"/>
<rect x="345" y="10.0" width="1" height="311.0" fill-opacity="0.08"/>
<rect x="346" y="10.0" width="1" height="311.0"/>
<rect x="347" y="10.0" width="1" height="311.0" fill-opacity="0.08"/>
<rect x="348" y="10.0" width="1" height="311.0"/>
<rect x="349" y="10.0" width="1" height="311.0" fill-opacity="0.08"/>
<rect x="350" y="10.0" width="1" height="311.0"/>
<rect x="351" y="10.0" width="1" height="311.0" fill-opacity="0.08"/>
<rect x="352" y="10.0" width="1" height="311.0"/>
<rect x="353" y="10.0" width="1" height="311.0" fill-opacity="0.08"/>
<rect x="354" y="10.0" width="1" height="311.0"/>
<rect x="355" y="10.0" width="1" height="311.0" fill-opacity="0.08"/>
<rect x="356" y="10.0" width="1" height="311.0"/>
<rect x="357" y="10.0" width="1" height="311.0"/>
<rect x="358" y="10.0" width="1" height="311.0"/>
<rect x="359" y="10.0" width="1" height="311.0"/>
<rect x="360" y="10.0" width="1" height="311.0" fill-opacity="0.08"/>
<rect x="361" y="10.0" width="1" height="311.0"/>
<rect x="362" y="10.0" width="1" height="311.0" fill-opacity="0.08"/>
<rect x="363" y="10.0" width="1" height="311.0"/>
<rect x="364" y="10.0" width="1" height="311.0" fill-opacity="0.08"/>
<rect x="365" y="10.0" width="1" height="311.0"/>
<rect x="366" y="10.0" width="1" height="311.0" fill-opacity="0.08"/>
<rect x="367" y="10.0" width="1" height="311.0"/>
<rect x="368" y="10.0" width="1" height="311.0" fill-opacity="0.08"/>
<rect x="369" y="10.0" width="1" height="311.0"/>
<rect x="370" y="10.0" width="1" height="311.0" fill-opacity="0.08"/>
<rect x="371" y="10.0" width="1" height="311.0"/>
<rect x="372" y="10.0" width="1" height="311.0"/>
<rect x="373" y="10.0" width="1" height="311.0"/>
<rect x="374" y="10.0" width="1" height="311.0"/>
<rect x="375" y="10.0" width="1" height="311.0" fill-opacity="0.08"/>
<rect x="376" y="10.0" width="1" height="311.0"/>
<rect x="377" y="10.0" width="1" height="311.0" fill-opacity="0.08"/>
<rect x="378" y="10.0" width="1" height="311.0"/>
<rect x="379" y="10.0" width="1" height="311.0" fill-opacity="0.08"/>
<rect x="380" y="10.0" width="1" height="311.0"/>
<rect x="381" y="10.0" width="1" height="311.0" fill-opacity="0.08"/>
<rect x="382" y="10.0" width="1" height="311.0"/>
<rect x="383" y="10.0" width="1" height="311.0" fill-opacity="0.08"/>
<rect x="384" y="10.0" width="1" height="311.0"/>
<rect x="385" y="10.0" width="1" height="311.0" fill-opacity="0.08"/>
<rect x="386" y="10.0" width="1" height="311.0"/>
<rect x="387" y="10.0" width="1" height="311.0"/>
<rect x="388" y="10.0" width="1" height="311.0"/>
<rect x="389" y="10.0" width="1" height="311.0"/>
<rect x="390" y="10.0" width="1" height="311.0" fill-opacity="0.08"/>
<rect x="391" y="10.0" width="1" height="311.0"/>
<rect x="392" y="10.0" width="1" height="311.0" fill-opacity="0.08"/>
<rect x="393" y="10.0" width="1" height="311.0"/>
<rect x="394" y="10.0" width="1" height="311.0" fill-opacity="0.08"/>
<rect x="395" y="10.0" width="1" height="311.0"/>
<rect x="396" y="10.0" width="1" height="311.0" fill-opacity="0.08"/>
<rect x="397" y="10.0" width="1" height="311.0"/>
<rect x="398" y="10.0" width="1" height="311.0" fill-opacity="0.08"/>
<rect x="399" y="10.0" width="1" height="311.0"/>
<rect x="400" y="10.0" width="1" height="311.0" fill-opacity="0.08"/>
<rect x="401" y="10.0" width="1" height="311.0"/>
<rect x="402" y="10.0" width="1" height="311.0"/>
<rect x="403" y="10.0" width="1" height="311.0"/>
<rect x="404" y="10.0" width="1" height="311.0"/>
<rect x="405" y="10.0" width="1" height="311.0" fill-opacity="0.08"/>
<rect x="406" y="10.0" width="1" height="311.0"/>
<rect x="407" y="10.0" width="1" height="311.0" fill-opacity="0.08"/>
<rect x="408" y="10.0" width="1" height="311.0"/>
<rect x="409" y="10.0" width="1" height="311.0" fill-opacity="0.08"/>
<rect x="410" y="10.0" width="1" height="311.0"/>
<rect x="411" y="10.0" width="1" height="311.0" fill-opacity="0.08"/>
<rect x="412" y="10.0" width="1" height="311.0"/>
<rect x="413" y="10.0" width="1" height="311.0" fill-opacity="0.08"/>
<rect x="414" y="10.0" width="1" height="311.0"/>
<rect x="415" y="10.0" width="1" height="311.0" fill-opacity="0.08"/>
<rect x="416" y="10.0" width="1" height="311.0"/>
<rect x="417" y="10.0" width="1" height="311.0"/>
<rect x="418" y="10.0" width="1" height="311.0"/>
<rect x="419" y="10.0" width="1" height="311.0"/>
<rect x="420" y="10.0" width="1" height="311.0" fill-opacity="0.08"/>
<rect x="421" y="10.0" width="1" height="311.0"/>
<rect x="422" y="10.0" width="1" height="311.0" fill-opacity="0.08"/>
<rect x="423" y="10.0" width="1" height="311.0"/>
<rect x="424" y="10.0" width="1" height="311.0" fill-opacity="0.08"/>
<rect x="425" y="10.0" width="1" height="311.0"/>
<rect x="426" y="10.0" width="1" height="311.0" fill-opacity="0.08"/>
<rect x="427" y="10.0" width="1" height="311.0"/>
</g>
<g fill="#008000" stroke="none" shape-rendering="crispEdges">
<rect x="68" y="316.8" width="1" height="3.0"/>
<rect x="68" y="318.3" width="1" height="1.5"/>
<rect x="68" y="316.8" width="1" height="1"/>
<rect x="69" y="316.6" width="1" height="3.0"/>
<rect x="68" y="316.6" width="3" height="1"/>
<rect x="70" y="316.3" width="1" height="3.0"/>
<rect x="70" y="317.8" width="1" height="1.5"/>
<rect x="70" y="316.3" width="1" height="1"/>
<rect x="71" y="316.1" width="1" height="3.0"/>
<rect x="70" y="316.1" width="3" height="1"/>
<rect x="70" y="318.1" width="3" height="1"/>
<rect x="72" y="315.9" width="1" height="3.0"/>
<rect x="72" y="317.4" width="1" height="1.5"/>
<rect x="72" y="315.9" width="1" height="1"/>
<rect x="73" y="315.7" width="1" height="3.0"/>
<rect x="72" y="315.7" width="3" height="1"/>
<rect x="72" y="317.7" width="3" height="1"/>
<rect x="74" y="315.5" width="1" height="3.0"/>
<rect x="74" y="317.0" width="1" height="1.5"/>
<rect x="74" y="315.5" width="1" height="1"/>
<rect x="75" y="315.2" width="1" height="3.0"/>
<rect x="74" y="315.2" width="3" height="1"/>
<rect x="74" y="317.2" width="3" height="1"/>
<rect x="76" y="315.0" width="1" height="3.0"/>
<rect x="75" y="315.0" width="3" height="1"/>
<rect x="75" y="317.0" width="3" height="1"/>
<rect x="77" y="314.8" width="1" height="3.0"/>
<rect x="76" y="314.8" width="3" height="1"/>
<rect x="76" y="316.8" width="3" height="1"/>
<rect x="78" y="314.6" width="1" height="3.0"/>
<rect x="77" y="314.6" width="3" height="1"/>
<rect x="77" y="316.6" width="3" height="1"/>
<rect x="79" y="314.3" width="1" height="3.0"/>
<rect x="79" y="315.8" width="1" height="1.5"/>
<rect x="79" y="314.3" width="1" height="1"/>
<rect x="80" y="314.1" width="1" height="3.0"/>
<rect x="79" y="314.1" width="3" height="1"/>
<rect x="79" y="316.1" width="3" height="1"/>
<rect x="81" y="313.9" width="1" height="3.0"/>
<rect x="81" y="315.4" width="1" height="1.5"/>
<rect x="81" y="313.9" width="1" height="1"/>
<rect x="82" y="313.7" width="1" height="3.0"/>
<rect x="81" y="313.7" width="3" height="1"/>
<rect x="81" y="315.7" width="3" height="1"/>
<rect x="83" y="313.4" width="1" height="3.0"/>
<rect x="83" y="314.9" width="1" height="1.5"/>
<rect x="83" y="313.4" width="1" height="1"/>
<rect x="84" y="313.2" width="1" height="3.0"/>
<rect x="83" y="313.2" width="3" height="1"/>
<rect x="83" y="315.2" width="3" height="1"/>
<rect x="85" y="313.0" width="1" height="3.0"/>
<rect x="85" y="314.5" width="1" height="1.5"/>
<rect x="85" y="313.0" width="1" height="1"/>
<rect x="86" y="312.8" width="1" height="3.0"/>
<rect x="85" y="312.8" width="3" height="1"/>
<rect x="85" y="314.8" width="3" height="1"/>
<rect x="87" y="312.6" width="1" height="3.0"/>
<rect x="87" y="314.1" width="1" height="1.5"/>
<rect x="87" y="312.6" width="1" height="1"/>
<rect x="88" y="312.3" width="1" height="3.0"/>
<rect x="87" y="312.3" width="3" height="1"/>
<rect x="87" y="314.3" width="3" height="1"/>
<rect x="89" y="312.1" width="1" height="3.0"/>
<rect x="89" y="313.6" width="1" height="1.5"/>
<rect x="89" y="312.1" width="1" height="1"/>
<rect x="90" y="311.9" width="1" height="3.0"/>
<rect x="89" y="311.9" width="3" height="1"/>
<rect x="89" y="313.9" width="3" height="1"/>
<rect x="91" y="311.7" width="1" height="3.0"/>
<rect x="90" y="311.7" width="3" height="1"/>
<rect x="90" y="313.7" width="3" height="1"/>
<rect x="92" y="311.5" width="1" height="3.0"/>
<rect x="91" y="311.5" width="3" height="1"/>
<rect x="91" y="313.5" width="3" height="1"/>
<rect x="93" y="311.3" width="1" height="3.0"/>
<rect x="92" y="311.3" width="3" height="1"/>
<rect x="92" y="313.3" width="3" height="1"/>
<rect x="94" y="311.0" width="1" height="3.0"/>
<rect x="94" y="312.5" width="1" height="1.5"/>
<rect x="94" y="311.0" width="1" height="1"/>
<rect x="95" y="310.8" width="1" height="3.0"/>
<rect x="94" y="310.8" width="3" height="1"/>
<rect x="94" y="312.8" width="3" height="1"/>
<rect x="96" y="310.6" width="1" height="3.0"/>
<rect x="96" y="312.1" width="1" height="1.5"/>
<rect x="96" y="310.6" width="1" height="1"/>
<rect x="97" y="310.4" width="1" height="3.0"/>
<rect x="96" y="310.4" width="3" height="1"/>
<rect x="96" y="312.4" width="3" height="1"/>
<rect x="98" y="310.2" width="1" height="3.0"/>
<rect x="98" y="311.7" width="1" height="1.5"/>
<rect x="98" y="310.2" width="1" height="1"/>
<rect x="99" y="310.0" width="1" height="3.0"/>
<rect x="98" y="310.0" width="3" height="1"/>
<rect x="98" y="312.0" width="3" height="1"/>
<rect x="100" y="309.8" width="1" height="3.0"/>
<rect x="100" y="311.3" width="1" height="1.5"/>
<rect x="100" y="309.8" width="1" height="1"/>
<rect x="101" y="309.6" width="1" height="3.0"/>
<rect x="100" y="309.6" width="3" height="1"/>
<rect x="100" y="311.6" width="3" height="1"/>
<rect x="102" y="309.4" width="1" height="3.0"/>
<rect x="102" y="310.9" width="1" height="1.5"/>
<rect x="102" y="309.4" width="1" height="1"/>
<rect x="103" y="309.1" width="1" height="3.0"/>
<rect x="102" y="309.1" width="3" height="1"/>
<rect x="102" y="311.1" width="3" height="1"/>
<rect x="104" y="308.9" width="1" height="3.0"/>
<rect x="104" y="310.4" width="1" height="1.5"/>
<rect x="104" y="308.9" width="1" height="1"/>
<rect x="105" y="308.7" width="1" height="3.0"/>
<rect x="104" y="308.7" width="3" height="1"/>
<rect x="104" y="310.7" width="3" height="1"/>
<rect x="106" y="308.5" width="1" height="3.0"/>
<rect x="105" y="308.5" width="3" height="1"/>
<rect x="105" y="310.5" width="3" height="1"/>
<rect x="107" y="308.3" width="1" height="3.0"/>
<rect x="106" y="308.3" width="3" height="1"/>
<rect x="106" y="310.3" width="3" height="1"/>
<rect x="108" y="308.1" width="1" height="3.0"/>
<rect x="107" y="308.1" width="3" height="1"/>
<rect x="107" y="310.1" width="3" height="1"/>
<rect x="109" y="307.9" width="1" height="3.0"/>
<rect x="109" y="309.4" width="1" height="1.5"/>
<rect x="109" y="307.9" width="1" height="1"/>
<rect x="110" y="307.7" width="1" height="3.0"/>
<rect x="109" y="307.7" width="3" height="1"/>
<rect x="109" y="309.7" width="3" height="1"/>
<rect x="111" y="307.4" width="1" height="3.0"/>
<rect x="111" y="308.9" width="1" height="1.5"/>
<rect x="111" y="307.4" width="1" height="1"/>
<rect x="112" y="307.2" width="1" height="3.0"/>
<rect x="111" y="307.2" width="3" height="1"/>
<rect x="111" y="309.2" width="3" height="1"/>
<rect x="113" y="307.0" width="1" height="3.0"/>
<rect x="113" y="308.5" width="1" height="1.5"/>
<rect x="113" y="307.0" width="1" height="1"/>
<rect x="114" y="306.8" width="1" height="3.0"/>
<rect x="113" y="306.8" width="3" height="1"/>
<rect x="113" y="308.8" width="3" height="1"/>
<rect x="115" y="306.6" width="1" height="3.0"/>
<rect x="115" y="308.1" width="1" height="1.5"/>
<rect x="115" y="306.6" width="1" height="1"/>
<rect x="116" y="306.3" width="1" height="3.0"/>
<rect x="115" y="306.3" width="3" height="1"/>
<rect x="115" y="308.3" width="3" height="1"/>
<rect x="117" y="306.1" width="1" height="3.0"/>
<rect x="117" y="307.6" width="1" height="1.5"/>
<rect x="117" y="306.1" width="1" height="1"/>
<rect x="118" y="305.9" width="1" height="3.0"/>
<rect x="118" y="307.4" width="1" height="1.5"/>
<rect x="118" y="305.9" width="1" height="1"/>
<rect x="119" y="305.6" width="1" height="3.0"/>
<rect x="118" y="305.6" width="3" height="1"/>
<rect x="118" y="307.6" width="3" height="1"/>
<rect x="120" y="305.4" width="1" height="3.0"/>
<rect x="119" y="305.4" width="3" height="1"/>
<rect x="119" y="307.4" width="3" height="1"/>
<rect x="121" y="305.1" width="1" height="3.0"/>
<rect x="120" y="305.1" width="3" height="1"/>
<rect x="120" y="307.1" width="3" height="1"/>
<rect x="122" y="304.9" width="1" height="3.0"/>
<rect x="121" y="304.9" width="3" height="1"/>
<rect x="121" y="306.9" width="3" height="1"/>
<rect x="123" y="304.7" width="1" height="3.0"/>
<rect x="123" y="306.2" width="1" height="1.5"/>
<rect x="123" y="304.7" width="1" height="1"/>
<rect x="124" y="304.4" width="1" height="3.0"/>
<rect x="123" y="304.4" width="3" height="1"/>
<rect x="123" y="306.4" width="3" height="1"/>
<rect x="125" y="304.2" width="1" height="3.0"/>
<rect x="125" y="305.7" width="1" height="1.5"/>
<rect x="125" y="304.2" width="1" height="1"/>
<rect x="126" y="303.9" width="1" height="3.0"/>
<rect x="125" y="303.9" width="3" height="1"/>
<rect x="125" y="305.9" width="3" height="1"/>
<rect x="127" y="303.7" width="1" height="3.0"/>
<rect x="127" y="305.2" width="1" height="1.5"/>
<rect x="127" y="303.7" width="1" height="1"/>
<rect x="128" y="303.5" width="1" height="3.0"/>
<rect x="127" y="303.5" width="3" height="1"/>
<rect x="127" y="305.5" width="3" height="1"/>
<rect x="129" y="303.2" width="1" height="3.0"/>
<rect x="129" y="304.7" width="1" height="1.5"/>
<rect x="129" y="303.2" width="1" height="1"/>
<rect x="130" y="303.0" width="1" height="3.0"/>
<rect x="129" y="303.0" width="3" height="1"/>
<rect x="129" y="305.0" width="3" height="1"/>
<rect x="131" y="302.7" width="1" height="3.0"/>
<rect x="131" y="304.2" width="1" height="1.5"/>
<rect x="131" y="302.7" width="1" height="1"/>
<rect x="132" y="302.5" width="1" height="3.0"/>
<rect x="131" y="302.5" width="3" height="1"/>
<rect x="131" y="304.5" width="3" height="1"/>
<rect x="133" y="302.3" width="1" height="3.0"/>
<rect x="133" y="303.8" width="1" height="1.5"/>
<rect x="133" y="302.3" width="1" height="1"/>
<rect x="134" y="302.0" width="1" height="3.0"/>
<rect x="133" y="302.0" width="3" height="1"/>
<rect x="133" y="304.0" width="3" height="1"/>
<rect x="135" y="301.8" width="1" height="3.0"/>
<rect x="134" y="301.8" width="3" height="1"/>
<rect x="134" y="303.8" width="3" height="1"/>
<rect x="136" y="301.5" width="1" height="3.0"/>
<rect x="135" y="301.5" width="3" height="1"/>
<rect x="135" y="303.5" width="3" height="1"/>
<rect x="137" y="301.3" width="1" height="3.0"/>
<rect x="136" y="301.3" width="3" height="1"/>
<rect x="136" y="303.3" width="3" height="1"/>
<rect x="138" y="301.1" width="1" height="3.0"/>
<rect x="138" y="302.6" width="1" height="1.5"/>
<rect x="138" y="301.1" width="1" height="1"/>
<rect x="139" y="300.8" width="1" height="3.0"/>
<rect x="138" y="300.8" width="3" height="1"/>
<rect x="138" y="302.8" width="3" height="1"/>
<rect x="140" y="300.6" width="1" height="3.0"/>
<rect x="140" y="302.1" width="1" height="1.5"/>
<rect x="140" y="300.6" width="1" height="1"/>
<rect x="141" y="300.4" width="1" height="3.0"/>
<rect x="140" y="300.4" width="3" height="1"/>
<rect x="140" y="302.4" width="3" height="1"/>
<rect x="142" y="300.1" width="1" height="3.0"/>
<rect x="142" y="301.6" width="1" height="1.5"/>
<rect x="142" y="300.1" width="1" height="1"/>
<rect x="143" y="299.9" width="1" height="3.0"/>
<rect x="142" y="299.9" width="3" height="1"/>
<rect x="142" y="301.9" width="3" height="1"/>
<rect x="144" y="299.7" width="1" height="3.0"/>
<rect x="144" y="301.2" width="1" height="1.5"/>
<rect x="144" y="299.7" width="1" height="1"/>
<rect x="145" y="299.4" width="1" height="3.0"/>
<rect x="144" y="299.4" width="3" height="1"/>
<rect x="144" y="301.4" width="3" height="1"/>
<rect x="146" y="299.2" width="1" height="3.0"/>
<rect x="146" y="300.7" width="1" height="1.5"/>
<rect x="146" y="299.2" width="1" height="1"/>
<rect x="147" y="299.0" width="1" height="3.0"/>
<rect x="146" y="299.0" width="3" height="1"/>
<rect x="146" y="301.0" width="3" height="1"/>
<rect x="148" y="298.7" width="1" height="3.0"/>
<rect x="148" y="300.2" width="1" height="1.5"/>
<rect x="148" y="298.7" width="1" height="1"/>
<rect x="149" y="298.5" width="1" height="3.0"/>
<rect x="148" y="298.5" width="3" height="1"/>
<rect x="148" y="300.5" width="3" height="1"/>
<rect x="150" y="298.3" width="1" height="3.0"/>
<rect x="149" y="298.3" width="3" height="1"/>
<rect x="149" y="300.3" width="3" height="1"/>
<rect x="151" y="298.0" width="1" height="3.0"/>
<rect x="150" y="298.0" width="3" height="1"/>
<rect x="150" y="300.0" width="3" height="1"/>
<rect x="152" y="297.8" width="1" height="3.0"/>
<rect x="151" y="297.8" width="3" height="1"/>
<rect x="151" y="299.8" width="3" height="1"/>
<rect x="153" y="297.6" width="1" height="3.0"/>
<rect x="153" y="299.1" width="1" height="1.5"/>
<rect x="153" y="297.6" width="1" height="1"/>
<rect x="154" y="297.4" width="1" height="3.0"/>
<rect x="153" y="297.4" width="3" height="1"/>
<rect x="153" y="299.4" width="3" height="1"/>
<rect x="155" y="297.1" width="1" height="3.0"/>
<rect x="155" y="298.6" width="1" height="1.5"/>
<rect x="155" y="297.1" width="1" height="1"/>
<rect x="156" y="296.9" width="1" height="3.0"/>
<rect x="155" y="296.9" width="3" height="1"/>
<rect x="155" y="298.9" width="3" height="1"/>
<rect x="157" y="296.7" width="1" height="3.0"/>
<rect x="157" y="298.2" width="1" height="1.5"/>
<rect x="157" y="296.7" width="1" height="1"/>
<rect x="158" y="296.4" width="1" height="3.0"/>
<rect x="157" y="296.4" width="3" height="1"/>
<rect x="157" y="298.4" width="3" height="1"/>
<rect x="159" y="296.2" width="1" height="3.0"/>
<rect x="159" y="297.7" width="1" height="1.5"/>
<rect x="159" y="296.2" width="1" height="1"/>
<rect x="160" y="296.0" width="1" height="3.0"/>
<rect x="159" y="296.0" width="3" height="1"/>
<rect x="159" y="298.0" width="3" height="1"/>
<rect x="161" y="295.7" width="1" height="3.0"/>
<rect x="161" y="297.2" width="1" height="1.5"/>
<rect x="161" y="295.7" width="1" height="1"/>
<rect x="162" y="295.5" width="1" height="3.0"/>
<rect x="161" y="295.5" width="3" height="1"/>
<rect x="161" y="297.5" width="3" height="1"/>
<rect x="163" y="295.3" width="1" height="3.0"/>
<rect x="163" y="296.8" width="1" height="1.5"/>
<rect x="163" y="295.3" width="1" height="1"/>
<rect x="164" y="295.0" width="1" height="3.0"/>
<rect x="163" y="295.0" width="3" height="1"/>
<rect x="163" y="297.0" width="3" height="1"/>
<rect x="165" y="294.8" width="1" height="3.0"/>
<rect x="164" y="294.8" width="3" height="1"/>
<rect x="164" y="296.8" width="3" height="1"/>
<rect x="166" y="294.6" width="1" height="3.0"/>
<rect x="165" y="294.6" width="3" height="1"/>
<rect x="165" y="296.6" width="3" height="1"/>
<rect x="167" y="294.3" width="1" height="3.0"/>
<rect x="166" y="294.3" width="3" height="1"/>
<rect x="166" y="296.3" width="3" height="1"/>
<rect x="168" y="294.1" width="1" height="3.0"/>
<rect x="168" y="295.6" width="1" height="1.5"/>
<rect x="168" y="294.1" width="1" height="1"/>
<rect x="169" y="293.9" width="1" height="3.0"/>
<rect x="168" y="293.9" width="3" height="1"/>
<rect x="168" y="295.9" width="3" height="1"/>
<rect x="170" y="293.6" width="1" height="3.0"/>
<rect x="170" y="295.1" width="1" height="1.5"/>
<rect x="170" y="293.6" width="1" height="1"/>
<rect x="171" y="293.3" width="1" height="3.0"/>
<rect x="170" y="293.3" width="3" height="1"/>
<rect x="170" y="295.3" width="3" height="1"/>
<rect x="172" y="293.1" width="1" height="3.0"/>
<rect x="172" y="294.6" width="1" height="1.5"/>
<rect x="172" y="293.1" width="1" height="1"/>
<rect x="173" y="292.8" width="1" height="3.0"/>
<rect x="172" y="292.8" width="3" height="1"/>
<rect x="172" y="294.8" width="3" height="1"/>
<rect x="174" y="292.5" width="1" height="3.0"/>
<rect x="174" y="294.0" width="1" height="1.5"/>
<rect x="174" y="292.5" width="1" height="1"/>
<rect x="175" y="292.3" width="1" height="3.0"/>
<rect x="174" y="292.3" width="3" height="1"/>
<rect x="174" y="294.3" width="3" height="1"/>
<rect x="176" y="292.0" width="1" height="3.0"/>
<rect x="176" y="293.5" width="1" height="1.5"/>
<rect x="176" y="292.0" width="1" height="1"/>
<rect x="177" y="291.7" width="1" height="3.0"/>
<rect x="177" y="293.2" width="1" height="1.5"/>
<rect x="177" y="291.7" width="1" height="1"/>
<rect x="178" y="291.5" width="1" height="3.0"/>
<rect x="177" y="291.5" width="3" height="1"/>
<rect x="177" y="293.5" width="3" height="1"/>
<rect x="179" y="291.2" width="1" height="3.0"/>
<rect x="178" y="291.2" width="3" height="1"/>
<rect x="178" y="293.2" width="3" height="1"/>
<rect x="180" y="290.9" width="1" height="3.0"/>
<rect x="179" y="290.9" width="3" height="1"/>
<rect x="179" y="292.9" width="3" height="1"/>
<rect x="181" y="290.7" width="1" height="3.0"/>
<rect x="180" y="290.7" width="3" height="1"/>
<rect x="180" y="292.7" width="3" height="1"/>
<rect x="182" y="290.4" width="1" height="3.0"/>
<rect x="182" y="291.9" width="1" height="1.5"/>
<rect x="182" y="290.4" width="1" height="1"/>
<rect x="183" y="290.1" width="1" height="3.0"/>
<rect x="182" y="290.1" width="3" height="1"/>
<rect x="182" y="292.1" width="3" height="1"/>
<rect x="184" y="289.9" width="1" height="3.0"/>
<rect x="184" y="291.4" width="1" height="1.5"/>
<rect x="184" y="289.9" width="1" height="1"/>
<rect x="185" y="289.6" width="1" height="3.0"/>
<rect x="184" y="289.6" width="3" height="1"/>
<rect x="184" y="291.6" width="3" height="1"/>
<rect x="186" y="289.3" width="1" height="3.0"/>
<rect x="186" y="290.8" width="1" height="1.5"/>
<rect x="186" y="289.3" width="1" height="1"/>
<rect x="187" y="289.1" width="1" height="3.0"/>
<rect x="186" y="289.1" width="3" height="1"/>
<rect x="186" y="291.1" width="3" height="1"/>
<rect x="188" y="288.8" width="1" height="3.0"/>
<rect x="188" y="290.3" width="1" height="1.5"/>
<rect x="188" y="288.8" width="1" height="1"/>
<rect x="189" y="288.5" width="1" height="3.0"/>
<rect x="188" y="288.5" width="3" height="1"/>
<rect x="188" y="290.5" width="3" height="1"/>
<rect x="190" y="288.3" width="1" height="3.0"/>
<rect x="190" y="289.8" width="1" height="1.5"/>
<rect x="190" y="288.3" width="1" height="1"/>
<rect x="191" y="288.0" width="1" height="3.0"/>
<rect x="190" y="288.0" width="3" height="1"/>
<rect x="190" y="290.0" width="3" height="1"/>
<rect x="192" y="287.8" width="1" height="3.0"/>
<rect x="192" y="289.3" width="1" height="1.5"/>
<rect x="192" y="287.8" width="1" height="1"/>
<rect x="193" y="287.6" width="1" height="3.0"/>
<rect x="192" y="287.6" width="3" height="1"/>
<rect x="192" y="289.6" width="3" height="1"/>
<rect x="194" y="287.3" width="1" height="3.0"/>
<rect x="193" y="287.3" width="3" height="1"/>
<rect x="193" y="289.3" width="3" height="1"/>
<rect x="195" y="287.1" width="1" height="3.0"/>
<rect x="194" y="287.1" width="3" height="1"/>
<rect x="194" y="289.1" width="3" height="1"/>
<rect x="196" y="286.8" width="1" height="3.0"/>
<rect x="195" y="286.8" width="3" height="1"/>
<rect x="195" y="288.8" width="3" height="1"/>
<rect x="197" y="286.6" width="1" height="3.0"/>
<rect x="197" y="288.1" width="1" height="1.5"/>
<rect x="197" y="286.6" width="1" height="1"/>
<rect x="198" y="286.4" width="1" height="3.0"/>
<rect x="197" y="286.4" width="3" height="1"/>
<rect x="197" y="288.4" width="3" height="1"/>
<rect x="199" y="286.1" width="1" height="3.0"/>
<rect x="199" y="287.6" width="1" height="1.5"/>
<rect x="199" y="286.1" width="1" height="1"/>
<rect x="200" y="285.9" width="1" height="3.0"/>
<rect x="199" y="285.9" width="3" height="1"/>
<rect x="199" y="287.9" width="3" height="1"/>
<rect x="201" y="285.6" width="1" height="3.0"/>
<rect x="201" y="287.1" width="1" height="1.5"/>
<rect x="201" y="285.6" width="1" height="1"/>
<rect x="202" y="285.3" width="1" height="3.1"/>
<rect x="201" y="285.3" width="3" height="1"/>
<rect x="201" y="287.4" width="3" height="1"/>
<rect x="203" y="285.0" width="1" height="3.1"/>
<rect x="203" y="286.6" width="1" height="1.5"/>
<rect x="203" y="285.0" width="1" height="1"/>
<rect x="204" y="284.8" width="1" height="3.1"/>
<rect x="203" y="284.8" width="3" height="1"/>
<rect x="203" y="286.9" width="3" height="1"/>
<rect x="205" y="284.5" width="1" height="3.2"/>
<rect x="205" y="286.2" width="1" height="1.5"/>
<rect x="205" y="284.5" width="1" height="1"/>
<rect x="206" y="284.2" width="1" height="3.2"/>
<rect x="205" y="284.2" width="3" height="1"/>
<rect x="205" y="286.4" width="3" height="1"/>
<rect x="207" y="283.9" width="1" height="3.2"/>
<rect x="207" y="285.7" width="1" height="1.5"/>
<rect x="207" y="283.9" width="1" height="1"/>
<rect x="208" y="283.6" width="1" height="3.3"/>
<rect x="207" y="283.6" width="3" height="1"/>
<rect x="207" y="285.9" width="3" height="1"/>
<rect x="209" y="283.4" width="1" height="3.3"/>
<rect x="208" y="283.4" width="3" height="1"/>
<rect x="208" y="285.7" width="3" height="1"/>
<rect x="210" y="283.1" width="1" height="3.4"/>
<rect x="209" y="283.1" width="3" height="1"/>
<rect x="209" y="285.4" width="3" height="1"/>
<rect x="211" y="282.8" width="1" height="3.4"/>
<rect x="210" y="282.8" width="3" height="1"/>
<rect x="210" y="285.2" width="3" height="1"/>
<rect x="212" y="282.5" width="1" height="3.4"/>
<rect x="212" y="284.5" width="1" height="1.5"/>
<rect x="212" y="282.5" width="1" height="1"/>
<rect x="213" y="282.3" width="1" height="3.5"/>
<rect x="212" y="282.3" width="3" height="1"/>
<rect x="212" y="284.7" width="3" height="1"/>
<rect x="214" y="282.0" width="1" height="3.5"/>
<rect x="214" y="284.0" width="1" height="1.5"/>
<rect x="214" y="282.0" width="1" height="1"/>
<rect x="215" y="281.7" width="1" height="3.5"/>
<rect x="214" y="281.7" width="3" height="1"/>
<rect x="214" y="284.2" width="3" height="1"/>
<rect x="216" y="281.4" width="1" height="3.5"/>
<rect x="216" y="283.5" width="1" height="1.5"/>
<rect x="216" y="281.4" width="1" height="1"/>
<rect x="217" y="281.2" width="1" height="3.6"/>
<rect x="216" y="281.2" width="3" height="1"/>
<rect x="216" y="283.7" width="3" height="1"/>
<rect x="218" y="280.9" width="1" height="3.6" fill-opacity="0.10"/>
<rect x="218" y="283.0" width="1" height="1.5"/>
<rect x="218" y="280.9" width="1" height="1"/>
<rect x="219" y="280.6" width="1" height="3.6"/>
<rect x="218" y="280.6" width="3" height="1"/>
<rect x="218" y="283.3" width="3" height="1"/>
<rect x="220" y="280.3" width="1" height="3.7" fill-opacity="0.10"/>
<rect x="220" y="282.5" width="1" height="1.5"/>
<rect x="220" y="280.3" width="1" height="1"/>
<rect x="221" y="280.0" width="1" height="3.7"/>
<rect x="220" y="280.0" width="3" height="1"/>
<rect x="220" y="282.7" width="3" height="1"/>
<rect x="222" y="279.7" width="1" height="3.8" fill-opacity="0.10"/>
<rect x="222" y="281.9" width="1" height="1.5"/>
<rect x="222" y="279.7" width="1" height="1"/>
<rect x="223" y="279.4" width="1" height="3.8"/>
<rect x="222" y="279.4" width="3" height="1"/>
<rect x="222" y="282.1" width="3" height="1"/>
<rect x="224" y="279.0" width="1" height="3.8"/>
<rect x="223" y="279.0" width="3" height="1"/>
<rect x="223" y="281.9" width="3" height="1"/>
<rect x="225" y="278.7" width="1" height="3.9"/>
<rect x="224" y="278.7" width="3" height="1"/>
<rect x="224" y="281.6" width="3" height="1"/>
<rect x="226" y="278.4" width="1" height="3.9"/>
<rect x="225" y="278.4" width="3" height="1"/>
<rect x="225" y="281.3" width="3" height="1"/>
<rect x="227" y="278.1" width="1" height="3.9" fill-opacity="0.10"/>
<rect x="227" y="280.5" width="1" height="1.5"/>
<rect x="227" y="278.1" width="1" height="1"/>
<rect x="228" y="277.8" width="1" height="4.0"/>
<rect x="227" y="277.8" width="3" height="1"/>
<rect x="227" y="280.7" width="3" height="1"/>
<rect x="229" y="277.5" width="1" height="4.0" fill-opacity="0.10"/>
<rect x="229" y="279.9" width="1" height="1.5"/>
<rect x="229" y="277.5" width="1" height="1"/>
<rect x="230" y="277.1" width="1" height="4.0"/>
<rect x="229" y="277.1" width="3" height="1"/>
<rect x="229" y="280.1" width="3" height="1"/>
<rect x="231" y="276.8" width="1" height="4.0" fill-opacity="0.10"/>
<rect x="231" y="279.3" width="1" height="1.5"/>
<rect x="231" y="276.8" width="1" height="1"/>
<rect x="232" y="276.5" width="1" height="4.0"/>
<rect x="231" y="276.5" width="3" height="1"/>
<rect x="231" y="279.5" width="3" height="1"/>
<rect x="233" y="276.2" width="1" height="4.1" fill-opacity="0.10"/>
<rect x="233" y="278.7" width="1" height="1.5"/>
<rect x="233" y="276.2" width="1" height="1"/>
<rect x="234" y="275.9" width="1" height="4.1"/>
<rect x="233" y="275.9" width="3" height="1"/>
<rect x="233" y="278.9" width="3" height="1"/>
<rect x="235" y="275.5" width="1" height="4.1" fill-opacity="0.10"/>
<rect x="235" y="278.1" width="1" height="1.5"/>
<rect x="235" y="275.5" width="1" height="1"/>
<rect x="236" y="275.2" width="1" height="4.1"/>
<rect x="235" y="275.2" width="3" height="1"/>
<rect x="235" y="278.3" width="3" height="1"/>
<rect x="237" y="274.9" width="1" height="4.1" fill-opacity="0.10"/>
<rect x="237" y="277.5" width="1" height="1.525"/>
<rect x="237" y="274.9" width="1" height="1"/>
<rect x="238" y="274.6" width="1" height="4.1"/>
<rect x="237" y="274.6" width="3" height="1"/>
<rect x="237" y="277.7" width="3" height="1"/>
<rect x="239" y="274.3" width="1" height="4.2"/>
<rect x="238" y="274.3" width="3" height="1"/>
<rect x="238" y="277.4" width="3" height="1"/>
<rect x="240" y="274.0" width="1" height="4.2"/>
<rect x="239" y="274.0" width="3" height="1"/>
<rect x="239" y="277.1" width="3" height="1"/>
<rect x="241" y="273.6" width="1" height="4.2"/>
<rect x="240" y="273.6" width="3" height="1"/>
<rect x="240" y="276.8" width="3" height="1"/>
<rect x="242" y="273.3" width="1" height="4.2" fill-opacity="0.10"/>
<rect x="242" y="275.9" width="1" height="1.6083333333333711"/>
<rect x="242" y="273.3" width="1" height="1"/>
<rect x="243" y="273.0" width="1" height="4.2"/>
<rect x="242" y="273.0" width="3" height="1"/>
<rect x="242" y="276.2" width="3" height="1"/>
<rect x="244" y="272.7" width="1" height="4.2" fill-opacity="0.10"/>
<rect x="244" y="275.3" width="1" height="1.6416666666666742"/>
<rect x="244" y="272.7" width="1" height="1"/>
<rect x="245" y="272.4" width="1" height="4.3"/>
<rect x="244" y="272.4" width="3" height="1"/>
<rect x="244" y="275.6" width="3" height="1"/>
<rect x="246" y="272.0" width="1" height="4.3" fill-opacity="0.10"/>
<rect x="246" y="274.6" width="1" height="1.6749999999999772"/>
<rect x="246" y="272.0" width="1" height="1"/>
<rect x="247" y="271.7" width="1" height="4.3"/>
<rect x="246" y="271.7" width="3" height="1"/>
<rect x="246" y="275.0" width="3" height="1"/>
<rect x="248" y="271.4" width="1" height="4.3" fill-opacity="0.10"/>
<rect x="248" y="274.0" width="1" height="1.7083333333332802"/>
<rect x="248" y="271.4" width="1" height="1"/>
<rect x="249" y="271.1" width="1" height="4.3"/>
<rect x="248" y="271.1" width="3" height="1"/>
<rect x="248" y="274.4" width="3" height="1"/>
<rect x="250" y="270.8" width="1" height="4.3" fill-opacity="0.10"/>
<rect x="250" y="273.4" width="1" height="1.741666666666697"/>
<rect x="250" y="270.8" width="1" height="1"/>
<rect x="251" y="270.5" width="1" height="4.4" fill-opacity="0.10"/>
<rect x="251" y="273.1" width="1" height="1.7583333333333484"/>
<rect x="251" y="270.5" width="1" height="1"/>
<rect x="252" y="270.1" width="1" height="4.4"/>
<rect x="251" y="270.1" width="3" height="1"/>
<rect x="251" y="273.5" width="3" height="1"/>
<rect x="253" y="269.8" width="1" height="4.4"/>
<rect x="252" y="269.8" width="3" height="1"/>
<rect x="252" y="273.2" width="3" height="1"/>
<rect x="254" y="269.5" width="1" height="4.4"/>
<rect x="253" y="269.5" width="3" height="1"/>
<rect x="253" y="272.9" width="3" height="1"/>
<rect x="255" y="269.2" width="1" height="4.4"/>
<rect x="254" y="269.2" width="3" height="1"/>
<rect x="254" y="272.6" width="3" height="1"/>
<rect x="256" y="268.9" width="1" height="4.4" fill-opacity="0.10"/>
<rect x="256" y="271.5" width="1" height="1.8416666666667196"/>
<rect x="256" y="268.9" width="1" height="1"/>
<rect x="257" y="268.5" width="1" height="4.5"/>
<rect x="256" y="268.5" width="3" height="1"/>
<rect x="256" y="272.0" width="3" height="1"/>
<rect x="258" y="268.2" width="1" height="4.5" fill-opacity="0.10"/>
<rect x="258" y="270.8" width="1" height="1.8750000000000226"/>
<rect x="258" y="268.2" width="1" height="1"/>
<rect x="259" y="267.9" width="1" height="4.5"/>
<rect x="258" y="267.9" width="3" height="1"/>
<rect x="258" y="271.4" width="3" height="1"/>
<rect x="260" y="267.6" width="1" height="4.5" fill-opacity="0.10"/>
<rect x="260" y="270.2" width="1" height="1.9083333333333257"/>
<rect x="260" y="267.6" width="1" height="1"/>
<rect x="261" y="267.3" width="1" height="4.5"/>
<rect x="260" y="267.3" width="3" height="1"/>
<rect x="260" y="270.8" width="3" height="1"/>
<rect x="262" y="267.0" width="1" height="4.5" fill-opacity="0.10"/>
<rect x="262" y="269.6" width="1" height="1.9416666666666287"/>
<rect x="262" y="267.0" width="1" height="1"/>
<rect x="263" y="266.7" width="1" height="4.6"/>
<rect x="262" y="266.7" width="3" height="1"/>
<rect x="262" y="270.2" width="3" height="1"/>
<rect x="264" y="266.4" width="1" height="4.6" fill-opacity="0.10"/>
<rect x="264" y="269.0" width="1" height="1.9750000000000454"/>
<rect x="264" y="266.4" width="1" height="1"/>
<rect x="265" y="266.1" width="1" height="4.6"/>
<rect x="264" y="266.1" width="3" height="1"/>
<rect x="264" y="269.6" width="3" height="1"/>
<rect x="266" y="265.7" width="1" height="4.6" fill-opacity="0.10"/>
<rect x="266" y="268.3" width="1" height="2.0083333333333484"/>
<rect x="266" y="265.7" width="1" height="1"/>
<rect x="267" y="265.4" width="1" height="4.6"/>
<rect x="266" y="265.4" width="3" height="1"/>
<rect x="266" y="269.1" width="3" height="1"/>
<rect x="268" y="265.1" width="1" height="4.6"/>
<rect x="267" y="265.1" width="3" height="1"/>
<rect x="267" y="268.8" width="3" height="1"/>
<rect x="269" y="264.8" width="1" height="4.7"/>
<rect x="268" y="264.8" width="3" height="1"/>
<rect x="268" y="268.5" width="3" height="1"/>
<rect x="270" y="264.5" width="1" height="4.7"/>
<rect x="269" y="264.5" width="3" height="1"/>
<rect x="269" y="268.2" width="3" height="1"/>
<rect x="271" y="264.2" width="1" height="4.7" fill-opacity="0.10"/>
<rect x="271" y="266.8" width="1" height="2.0916666666667196"/>
<rect x="271" y="264.2" width="1" height="1"/>
<rect x="272" y="263.9" width="1" height="4.7"/>
<rect x="271" y="263.9" width="3" height="1"/>
<rect x="271" y="267.6" width="3" height="1"/>
<rect x="273" y="263.6" width="1" height="4.7" fill-opacity="0.10"/>
<rect x="273" y="266.2" width="1" height="2.1250000000000226"/>
<rect x="273" y="263.6" width="1" height="1"/>
<rect x="274" y="263.3" width="1" height="4.7"/>
<rect x="273" y="263.3" width="3" height="1"/>
<rect x="273" y="267.0" width="3" height="1"/>
<rect x="275" y="263.0" width="1" height="4.8" fill-opacity="0.10"/>
<rect x="275" y="265.6" width="1" height="2.1583333333333257"/>
<rect x="275" y="263.0" width="1" height="1"/>
<rect x="276" y="262.7" width="1" height="4.8"/>
<rect x="275" y="262.7" width="3" height="1"/>
<rect x="275" y="266.4" width="3" height="1"/>
<rect x="277" y="262.4" width="1" height="4.8" fill-opacity="0.10"/>
<rect x="277" y="265.0" width="1" height="2.1916666666666287"/>
<rect x="277" y="262.4" width="1" height="1"/>
<rect x="278" y="262.0" width="1" height="4.8"/>
<rect x="277" y="262.0" width="3" height="1"/>
<rect x="277" y="265.9" width="3" height="1"/>
<rect x="279" y="261.7" width="1" height="4.8" fill-opacity="0.10"/>
<rect x="279" y="264.3" width="1" height="2.2250000000000454"/>
<rect x="279" y="261.7" width="1" height="1"/>
<rect x="280" y="261.4" width="1" height="4.8"/>
<rect x="279" y="261.4" width="3" height="1"/>
<rect x="279" y="265.3" width="3" height="1"/>
<rect x="281" y="261.1" width="1" height="4.9" fill-opacity="0.10"/>
<rect x="281" y="263.7" width="1" height="2.2583333333333484"/>
<rect x="281" y="261.1" width="1" height="1"/>
<rect x="282" y="260.8" width="1" height="4.9"/>
<rect x="281" y="260.8" width="3" height="1"/>
<rect x="281" y="264.7" width="3" height="1"/>
<rect x="283" y="260.5" width="1" height="4.9"/>
<rect x="282" y="260.5" width="3" height="1"/>
<rect x="282" y="264.4" width="3" height="1"/>
<rect x="284" y="260.2" width="1" height="4.9"/>
<rect x="283" y="260.2" width="3" height="1"/>
<rect x="283" y="264.1" width="3" height="1"/>
<rect x="285" y="259.9" width="1" height="4.9"/>
<rect x="284" y="259.9" width="3" height="1"/>
<rect x="284" y="263.8" width="3" height="1"/>
<rect x="286" y="259.6" width="1" height="4.9" fill-opacity="0.10"/>
<rect x="286" y="262.2" width="1" height="2.3416666666667196"/>
<rect x="286" y="259.6" width="1" height="1"/>
<rect x="287" y="259.3" width="1" height="5.0"/>
<rect x="286" y="259.3" width="3" height="1"/>
<rect x="286" y="263.2" width="3" height="1"/>
<rect x="288" y="259.0" width="1" height="5.0" fill-opacity="0.10"/>
<rect x="288" y="261.6" width="1" height="2.3750000000000226"/>
<rect x="288" y="259.0" width="1" height="1"/>
<rect x="289" y="258.7" width="1" height="5.0"/>
<rect x="288" y="258.7" width="3" height="1"/>
<rect x="288" y="262.6" width="3" height="1"/>
<rect x="290" y="259.3" width="1" height="3.1"/>
<rect x="290" y="260.9" width="1" height="1.5"/>
<rect x="290" y="259.3" width="1" height="1"/>
<rect x="291" y="258.8" width="1" height="3.3"/>
<rect x="290" y="258.8" width="3" height="1"/>
<rect x="290" y="261.1" width="3" height="1"/>
<rect x="292" y="258.4" width="1" height="3.5"/>
<rect x="292" y="260.4" width="1" height="1.5"/>
<rect x="292" y="258.4" width="1" height="1"/>
<rect x="293" y="257.9" width="1" height="3.7"/>
<rect x="292" y="257.9" width="3" height="1"/>
<rect x="292" y="260.6" width="3" height="1"/>
<rect x="294" y="257.5" width="1" height="3.9" fill-opacity="0.10"/>
<rect x="294" y="259.9" width="1" height="1.5"/>
<rect x="294" y="257.5" width="1" height="1"/>
<rect x="295" y="257.0" width="1" height="4.1"/>
<rect x="294" y="257.0" width="3" height="1"/>
<rect x="294" y="260.1" width="3" height="1"/>
<rect x="296" y="256.6" width="1" height="4.3" fill-opacity="0.10"/>
<rect x="296" y="259.2" width="1" height="1.7000000000000113"/>
<rect x="296" y="256.6" width="1" height="1"/>
<rect x="297" y="256.1" width="1" height="4.5"/>
<rect x="296" y="256.1" width="3" height="1"/>
<rect x="296" y="259.6" width="3" height="1"/>
<rect x="298" y="255.7" width="1" height="4.7"/>
<rect x="297" y="255.7" width="3" height="1"/>
<rect x="297" y="259.4" width="3" height="1"/>
<rect x="299" y="255.2" width="1" height="4.9"/>
<rect x="298" y="255.2" width="3" height="1"/>
<rect x="298" y="259.1" width="3" height="1"/>
<rect x="300" y="254.8" width="1" height="5.1"/>
<rect x="299" y="254.8" width="3" height="1"/>
<rect x="299" y="258.9" width="3" height="1"/>
<rect x="301" y="254.2" width="1" height="5.3" fill-opacity="0.10"/>
<rect x="301" y="256.9" width="1" height="2.7000000000000113"/>
<rect x="301" y="254.2" width="1" height="1"/>
<rect x="302" y="253.8" width="1" height="5.5"/>
<rect x="301" y="253.8" width="3" height="1"/>
<rect x="301" y="258.2" width="3" height="1"/>
<rect x="303" y="253.2" width="1" height="5.7" fill-opacity="0.10"/>
<rect x="303" y="255.8" width="1" height="3.0999999999999885"/>
<rect x="303" y="253.2" width="1" height="1"/>
<rect x="304" y="252.8" width="1" height="5.9"/>
<rect x="303" y="252.8" width="3" height="1"/>
<rect x="303" y="257.6" width="3" height="1"/>
<rect x="305" y="252.2" width="1" height="6.2" fill-opacity="0.10"/>
<rect x="305" y="254.8" width="1" height="3.557142857142844"/>
<rect x="305" y="252.2" width="1" height="1"/>
<rect x="306" y="251.6" width="1" height="6.5"/>
<rect x="305" y="251.6" width="3" height="1"/>
<rect x="305" y="257.1" width="3" height="1"/>
<rect x="307" y="251.0" width="1" height="6.8" fill-opacity="0.10"/>
<rect x="307" y="253.6" width="1" height="4.185714285714278"/>
<rect x="307" y="251.0" width="1" height="1"/>
<rect x="308" y="250.4" width="1" height="7.1"/>
<rect x="307" y="250.4" width="3" height="1"/>
<rect x="307" y="256.5" width="3" height="1"/>
<rect x="309" y="249.8" width="1" height="7.4" fill-opacity="0.10"/>
<rect x="309" y="252.4" width="1" height="4.814285714285711"/>
<rect x="309" y="249.8" width="1" height="1"/>
<rect x="310" y="249.1" width="1" height="7.8" fill-opacity="0.10"/>
<rect x="310" y="251.7" width="1" height="5.179220779220794"/>
<rect x="310" y="249.1" width="1" height="1"/>
<rect x="311" y="248.4" width="1" height="8.2"/>
<rect x="310" y="248.4" width="3" height="1"/>
<rect x="310" y="255.6" width="3" height="1"/>
<rect x="312" y="248.2" width="1" height="7.7" fill-opacity="0.60"/>
<rect x="311" y="247.7" width="3" height="1"/>
<rect x="311" y="255.4" width="3" height="1"/>
<rect x="313" y="247.5" width="1" height="8.2" fill-opacity="0.60"/>
<rect x="312" y="247.0" width="3" height="1"/>
<rect x="312" y="255.2" width="3" height="1"/>
<rect x="314" y="246.8" width="1" height="8.7" fill-opacity="0.60"/>
<rect x="313" y="246.3" width="3" height="1"/>
<rect x="313" y="255.1" width="3" height="1"/>
<rect x="315" y="246.1" width="1" height="9.2" fill-opacity="0.10"/>
<rect x="316" y="245.4" width="1" height="9.8"/>
<rect x="315" y="244.9" width="3" height="1"/>
<rect x="315" y="254.7" width="3" height="1"/>
<rect x="317" y="244.7" width="1" height="10.3" fill-opacity="0.10"/>
<rect x="318" y="243.8" width="1" height="11.5" fill-opacity="0.72"/>
<rect x="318" y="243.8" width="1" height="11.5" fill="#000" fill-opacity="0.25"/>
<rect x="317" y="243.3" width="3" height="1"/>
<rect x="317" y="254.8" width="3" height="1"/>
<rect x="319" y="242.8" width="1" height="12.9" fill-opacity="0.10"/>
<rect x="320" y="241.8" width="1" height="14.4" fill-opacity="0.72"/>
<rect x="320" y="241.8" width="1" height="14.4" fill="#000" fill-opacity="0.25"/>
<rect x="319" y="241.3" width="3" height="1"/>
<rect x="319" y="255.7" width="3" height="1"/>
<rect x="321" y="240.8" width="1" height="15.8" fill-opacity="0.10"/>
<rect x="322" y="239.8" width="1" height="17.2" fill-opacity="0.72"/>
<rect x="322" y="239.8" width="1" height="17.2" fill="#000" fill-opacity="0.25"/>
<rect x="321" y="239.3" width="3" height="1"/>
<rect x="321" y="256.5" width="3" height="1"/>
<rect x="323" y="238.8" width="1" height="18.6" fill-opacity="0.10"/>
<rect x="324" y="237.2" width="1" height="20.6"/>
<rect x="323" y="236.7" width="3" height="1"/>
<rect x="323" y="257.3" width="3" height="1"/>
<rect x="325" y="235.6" width="1" height="22.6" fill-opacity="0.10"/>
<rect x="326" y="234.0" width="1" height="24.6" fill-opacity="0.60"/>
<rect x="325" y="233.5" width="3" height="1"/>
<rect x="325" y="258.1" width="3" height="1"/>
<rect x="327" y="232.5" width="1" height="26.5" fill-opacity="0.60"/>
<rect x="326" y="232.0" width="3" height="1"/>
<rect x="326" y="258.5" width="3" height="1"/>
<rect x="328" y="230.9" width="1" height="28.5" fill-opacity="0.60"/>
<rect x="327" y="230.4" width="3" height="1"/>
<rect x="327" y="258.9" width="3" height="1"/>
<rect x="329" y="229.3" width="1" height="30.5" fill-opacity="0.60"/>
<rect x="328" y="228.8" width="3" height="1"/>
<rect x="328" y="259.3" width="3" height="1"/>
<rect x="330" y="227.9" width="1" height="32.7" fill-opacity="0.10"/>
<rect x="331" y="226.6" width="1" height="35.1"/>
<rect x="330" y="226.1" width="3" height="1"/>
<rect x="330" y="261.2" width="3" height="1"/>
<rect x="332" y="225.2" width="1" height="37.7" fill-opacity="0.10"/>
<rect x="333" y="223.5" width="1" height="40.5" fill-opacity="0.72"/>
<rect x="333" y="223.5" width="1" height="40.5" fill="#000" fill-opacity="0.25"/>
<rect x="332" y="223.0" width="3" height="1"/>
<rect x="332" y="263.6" width="3" height="1"/>
<rect x="334" y="221.9" width="1" height="43.3" fill-opacity="0.10"/>
<rect x="335" y="220.3" width="1" height="46.1" fill-opacity="0.72"/>
<rect x="335" y="220.3" width="1" height="46.1" fill="#000" fill-opacity="0.25"/>
<rect x="334" y="219.8" width="3" height="1"/>
<rect x="334" y="265.9" width="3" height="1"/>
<rect x="336" y="218.6" width="1" height="48.9" fill-opacity="0.10"/>
<rect x="337" y="217.0" width="1" height="51.8" fill-opacity="0.72"/>
<rect x="337" y="217.0" width="1" height="51.8" fill="#000" fill-opacity="0.25"/>
<rect x="336" y="216.5" width="3" height="1"/>
<rect x="336" y="268.2" width="3" height="1"/>
<rect x="338" y="215.4" width="1" height="54.6" fill-opacity="0.10"/>
<rect x="339" y="213.7" width="1" height="57.4"/>
<rect x="338" y="213.2" width="3" height="1"/>
<rect x="338" y="270.6" width="3" height="1"/>
<rect x="340" y="212.1" width="1" height="60.2" fill-opacity="0.10"/>
<rect x="341" y="210.5" width="1" height="63.0" fill-opacity="0.60"/>
<rect x="340" y="210.0" width="3" height="1"/>
<rect x="340" y="272.9" width="3" height="1"/>
<rect x="342" y="208.8" width="1" height="65.7" fill-opacity="0.60"/>
<rect x="341" y="208.3" width="3" height="1"/>
<rect x="341" y="274.0" width="3" height="1"/>
<rect x="343" y="207.1" width="1" height="68.5" fill-opacity="0.60"/>
<rect x="342" y="206.6" width="3" height="1"/>
<rect x="342" y="275.1" width="3" height="1"/>
<rect x="344" y="205.3" width="1" height="71.4" fill-opacity="0.60"/>
<rect x="343" y="204.8" width="3" height="1"/>
<rect x="343" y="276.2" width="3" height="1"/>
<rect x="345" y="203.5" width="1" height="74.3" fill-opacity="0.10"/>
<rect x="346" y="201.6" width="1" height="77.2"/>
<rect x="345" y="201.1" width="3" height="1"/>
<rect x="345" y="278.4" width="3" height="1"/>
<rect x="347" y="199.8" width="1" height="80.1" fill-opacity="0.10"/>
<rect x="348" y="198.0" width="1" height="83.0" fill-opacity="0.72"/>
<rect x="348" y="198.0" width="1" height="83.0" fill="#000" fill-opacity="0.25"/>
<rect x="347" y="197.5" width="3" height="1"/>
<rect x="347" y="280.5" width="3" height="1"/>
<rect x="349" y="196.2" width="1" height="85.9" fill-opacity="0.10"/>
<rect x="350" y="194.4" width="1" height="88.8" fill-opacity="0.72"/>
<rect x="350" y="194.4" width="1" height="88.8" fill="#000" fill-opacity="0.25"/>
<rect x="349" y="193.9" width="3" height="1"/>
<rect x="349" y="282.7" width="3" height="1"/>
<rect x="351" y="192.5" width="1" height="91.7" fill-opacity="0.10"/>
<rect x="352" y="190.6" width="1" height="94.7" fill-opacity="0.72"/>
<rect x="352" y="190.6" width="1" height="94.7" fill="#000" fill-opacity="0.25"/>
<rect x="351" y="190.1" width="3" height="1"/>
<rect x="351" y="284.8" width="3" height="1"/>
<rect x="353" y="188.6" width="1" height="97.8" fill-opacity="0.10"/>
<rect x="354" y="186.6" width="1" height="100.8"/>
<rect x="353" y="186.1" width="3" height="1"/>
<rect x="353" y="287.0" width="3" height="1"/>
<rect x="355" y="184.6" width="1" height="103.9" fill-opacity="0.10"/>
<rect x="356" y="182.7" width="1" height="107.0" fill-opacity="0.60"/>
<rect x="355" y="182.2" width="3" height="1"/>
<rect x="355" y="289.1" width="3" height="1"/>
<rect x="357" y="180.7" width="1" height="110.0" fill-opacity="0.60"/>
<rect x="356" y="180.2" width="3" height="1"/>
<rect x="356" y="290.2" width="3" height="1"/>
<rect x="358" y="178.7" width="1" height="113.1" fill-opacity="0.60"/>
<rect x="357" y="178.2" width="3" height="1"/>
<rect x="357" y="291.3" width="3" height="1"/>
<rect x="359" y="176.7" width="1" height="116.3" fill-opacity="0.60"/>
<rect x="358" y="176.2" width="3" height="1"/>
<rect x="358" y="292.5" width="3" height="1"/>
<rect x="360" y="174.7" width="1" height="119.6" fill-opacity="0.10"/>
<rect x="361" y="172.2" width="1" height="123.3"/>
<rect x="360" y="171.7" width="3" height="1"/>
<rect x="360" y="295.1" width="3" height="1"/>
<rect x="362" y="169.6" width="1" height="127.2" fill-opacity="0.10"/>
<rect x="363" y="167.0" width="1" height="131.1" fill-opacity="0.72"/>
<rect x="363" y="167.0" width="1" height="131.1" fill="#000" fill-opacity="0.25"/>
<rect x="362" y="166.5" width="3" height="1"/>
<rect x="362" y="297.6" width="3" height="1"/>
<rect x="364" y="164.4" width="1" height="135.0" fill-opacity="0.10"/>
<rect x="365" y="161.7" width="1" height="138.9" fill-opacity="0.72"/>
<rect x="365" y="161.7" width="1" height="138.9" fill="#000" fill-opacity="0.25"/>
<rect x="364" y="161.2" width="3" height="1"/>
<rect x="364" y="300.1" width="3" height="1"/>
<rect x="366" y="159.1" width="1" height="142.8" fill-opacity="0.10"/>
<rect x="367" y="156.5" width="1" height="146.7" fill-opacity="0.72"/>
<rect x="367" y="156.5" width="1" height="146.7" fill="#000" fill-opacity="0.25"/>
<rect x="366" y="156.0" width="3" height="1"/>
<rect x="366" y="302.7" width="3" height="1"/>
<rect x="368" y="153.9" width="1" height="150.6" fill-opacity="0.10"/>
<rect x="369" y="151.3" width="1" height="154.4"/>
<rect x="368" y="150.8" width="3" height="1"/>
<rect x="368" y="305.2" width="3" height="1"/>
<rect x="370" y="148.7" width="1" height="158.3" fill-opacity="0.10"/>
<rect x="371" y="146.1" width="1" height="162.2" fill-opacity="0.60"/>
<rect x="370" y="145.6" width="3" height="1"/>
<rect x="370" y="307.7" width="3" height="1"/>
<rect x="372" y="143.5" width="1" height="166.0" fill-opacity="0.60"/>
<rect x="371" y="143.0" width="3" height="1"/>
<rect x="371" y="309.0" width="3" height="1"/>
<rect x="373" y="140.9" width="1" height="169.9" fill-opacity="0.60"/>
<rect x="372" y="140.4" width="3" height="1"/>
<rect x="372" y="310.3" width="3" height="1"/>
<rect x="374" y="138.3" width="1" height="173.8" fill-opacity="0.60"/>
<rect x="373" y="137.8" width="3" height="1"/>
<rect x="373" y="311.6" width="3" height="1"/>
<rect x="375" y="135.8" width="1" height="177.6" fill-opacity="0.10"/>
<rect x="376" y="133.3" width="1" height="181.3"/>
<rect x="375" y="132.8" width="3" height="1"/>
<rect x="375" y="314.1" width="3" height="1"/>
<rect x="377" y="130.8" width="1" height="185.1" fill-opacity="0.10"/>
<rect x="378" y="128.3" width="1" height="189.7" fill-opacity="0.72"/>
<rect x="378" y="128.3" width="1" height="189.7" fill="#000" fill-opacity="0.25"/>
<rect x="377" y="127.8" width="3" height="1"/>
<rect x="377" y="317.4" width="3" height="1"/>
<rect x="379" y="124.7" width="1" height="196.0" fill-opacity="0.10"/>
<rect x="380" y="121.1" width="1" height="199.9" fill-opacity="0.72"/>
<rect x="380" y="121.1" width="1" height="199.9" fill="#000" fill-opacity="0.25"/>
<rect x="379" y="120.6" width="3" height="1"/>
<rect x="381" y="117.5" width="1" height="203.5" fill-opacity="0.10"/>
<rect x="382" y="113.8" width="1" height="207.2" fill-opacity="0.72"/>
<rect x="382" y="113.8" width="1" height="207.2" fill="#000" fill-opacity="0.25"/>
<rect x="381" y="113.3" width="3" height="1"/>
<rect x="383" y="108.8" width="1" height="212.2" fill-opacity="0.10"/>
<rect x="384" y="102.2" width="1" height="218.8"/>
<rect x="383" y="101.8" width="3" height="1"/>
<rect x="385" y="97.3" width="1" height="223.7" fill-opacity="0.10"/>
<rect x="386" y="94.0" width="1" height="226.9" fill-opacity="0.60"/>
<rect x="385" y="93.5" width="3" height="1"/>
<rect x="387" y="90.8" width="1" height="230.2" fill-opacity="0.60"/>
<rect x="386" y="90.2" width="3" height="1"/>
<rect x="388" y="87.5" width="1" height="233.6" fill-opacity="0.60"/>
<rect x="387" y="87.0" width="3" height="1"/>
<rect x="389" y="84.2" width="1" height="236.8" fill-opacity="0.60"/>
<rect x="388" y="83.7" width="3" height="1"/>
<rect x="390" y="80.2" width="1" height="240.8" fill-opacity="0.10"/>
<rect x="391" y="75.8" width="1" height="245.2"/>
<rect x="390" y="75.2" width="3" height="1"/>
<rect x="392" y="71.2" width="1" height="249.8" fill-opacity="0.10"/>
<rect x="393" y="66.0" width="1" height="255.0" fill-opacity="0.72"/>
<rect x="393" y="66.0" width="1" height="255.0" fill="#000" fill-opacity="0.25"/>
<rect x="392" y="65.5" width="3" height="1"/>
<rect x="394" y="60.0" width="1" height="261.0" fill-opacity="0.10"/>
<rect x="395" y="54.0" width="1" height="267.0" fill-opacity="0.72"/>
<rect x="395" y="54.0" width="1" height="267.0" fill="#000" fill-opacity="0.25"/>
<rect x="394" y="53.5" width="3" height="1"/>
<rect x="396" y="48.0" width="1" height="273.0" fill-opacity="0.10"/>
<rect x="397" y="46.0" width="1" height="275.0" fill-opacity="0.72"/>
<rect x="397" y="46.0" width="1" height="275.0" fill="#000" fill-opacity="0.25"/>
<rect x="396" y="45.5" width="3" height="1"/>
<rect x="398" y="44.0" width="1" height="277.0" fill-opacity="0.10"/>
<rect x="399" y="42.0" width="1" height="279.0"/>
<rect x="398" y="41.5" width="3" height="1"/>
<rect x="400" y="35.0" width="1" height="286.0" fill-opacity="0.10"/>
<rect x="401" y="23.0" width="1" height="298.0" fill-opacity="0.60"/>
<rect x="400" y="22.5" width="3" height="1"/>
<rect x="402" y="17.0" width="1" height="304.0" fill-opacity="0.60"/>
<rect x="401" y="16.5" width="3" height="1"/>
<rect x="403" y="11.0" width="1" height="310.0" fill-opacity="0.60"/>
<rect x="404" y="10.0" width="1" height="311.0" fill-opacity="0.60"/>
<rect x="405" y="10.0" width="1" height="311.0" fill-opacity="0.10"/>
<rect x="406" y="10.0" width="1" height="311.0"/>
<rect x="407" y="10.0" width="1" height="311.0" fill-opacity="0.10"/>
<rect x="408" y="10.0" width="1" height="311.0" fill-opacity="0.72"/>
<rect x="408" y="10.0" width="1" height="311.0" fill="#000" fill-opacity="0.25"/>
<rect x="409" y="10.0" width="1" height="311.0" fill-opacity="0.10"/>
<rect x="410" y="10.0" width="1" height="311.0" fill-opacity="0.72"/>
<rect x="410" y="10.0" width="1" height="311.0" fill="#000" fill-opacity="0.25"/>
<rect x="411" y="10.0" width="1" height="311.0" fill-opacity="0.10"/>
<rect x="412" y="10.0" width="1" height="311.0" fill-opacity="0.72"/>
<rect x="412" y="10.0" width="1" height="311.0" fill="#000" fill-opacity="0.25"/>
<rect x="413" y="10.0" width="1" height="311.0" fill-opacity="0.10"/>
<rect x="414" y="10.0" width="1" height="311.0"/>
<rect x="415" y="10.0" width="1" height="311.0" fill-opacity="0.10"/>
<rect x="416" y="10.0" width="1" height="311.0" fill-opacity="0.60"/>
<rect x="417" y="10.0" width="1" height="311.0" fill-opacity="0.60"/>
<rect x="418" y="10.0" width="1" height="311.0" fill-opacity="0.60"/>
<rect x="419" y="10.0" width="1" height="311.0" fill-opacity="0.60"/>
<rect x="420" y="10.0" width="1" height="311.0" fill-opacity="0.10"/>
<rect x="421" y="10.0" width="1" height="311.0"/>
<rect x="422" y="10.0" width="1" height="311.0" fill-opacity="0.10"/>
<rect x="423" y="10.0" width="1" height="311.0" fill-opacity="0.72"/>
<rect x="423" y="10.0" width="1" height="311.0" fill="#000" fill-opacity="0.25"/>
<rect x="424" y="10.0" width="1" height="311.0" fill-opacity="0.10"/>
<rect x="425" y="10.0" width="1" height="311.0" fill-opacity="0.72"/>
<rect x="425" y="10.0" width="1" height="311.0" fill="#000" fill-opacity="0.25"/>
<rect x="426" y="10.0" width="1" height="311.0" fill-opacity="0.10"/>
<rect x="427" y="10.0" width="1" height="311.0"/>
<rect x="428" y="10.0" width="1" height="311.0" fill-opacity="0.18"/>
<rect x="429" y="10.0" width="1" height="311.0"/>
<rect x="430" y="10.0" width="1" height="311.0"/>
<rect x="431" y="10.0" width="1" height="311.0"/>
<rect x="432" y="10.0" width="1" height="311.0"/>
<rect x="433" y="10.0" width="1" height="311.0"/>
<rect x="434" y="10.0" width="1" height="311.0"/>
<rect x="435" y="10.0" width="1" height="311.0" fill-opacity="0.18"/>
<rect x="436" y="10.0" width="1" height="311.0"/>
<rect x="437" y="10.0" width="1" height="311.0" fill-opacity="0.18"/>
<rect x="438" y="10.0" width="1" height="311.0"/>
<rect x="439" y="10.0" width="1" height="311.0" fill-opacity="0.18"/>
<rect x="440" y="10.0" width="1" height="311.0"/>
<rect x="441" y="10.0" width="1" height="311.0" fill-opacity="0.18"/>
<rect x="442" y="10.0" width="1" height="311.0"/>
<rect x="443" y="10.0" width="1" height="311.0" fill-opacity="0.18"/>
<rect x="444" y="10.0" width="1" height="311.0"/>
<rect x="445" y="10.0" width="1" height="311.0"/>
<rect x="446" y="10.0" width="1" height="311.0"/>
<rect x="447" y="10.0" width="1" height="311.0"/>
<rect x="448" y="10.0" width="1" height="311.0"/>
<rect x="449" y="10.0" width="1" height="311.0"/>
<rect x="450" y="10.0" width="1" height="311.0" fill-opacity="0.18"/>
<rect x="451" y="10.0" width="1" height="311.0"/>
<rect x="452" y="10.0" width="1" height="311.0" fill-opacity="0.18"/>
<rect x="453" y="10.0" width="1" height="311.0"/>
<rect x="454" y="10.0" width="1" height="311.0" fill-opacity="0.18"/>
<rect x="455" y="10.0" width="1" height="311.0"/>
<rect x="456" y="10.0" width="1" height="311.0" fill-opacity="0.18"/>
<rect x="457" y="10.0" width="1" height="311.0"/>
</g>
<g fill="#0000ff" stroke="none" shape-rendering="crispEdges">
<rect x="68" y="319.1" width="1" height="1.9"/>
<rect x="68" y="320.6" width="1" height="1.5"/>
<rect x="68" y="319.1" width="1" height="1"/>
<rect x="69" y="319.0" width="1" height="2.0"/>
<rect x="68" y="319.0" width="3" height="1"/>
<rect x="70" y="319.0" width="1" height="2.0"/>
<rect x="70" y="320.5" width="1" height="1.5"/>
<rect x="70" y="319.0" width="1" height="1"/>
<rect x="71" y="319.0" width="1" height="2.0"/>
<rect x="70" y="319.0" width="3" height="1"/>
<rect x="72" y="318.9" width="1" height="2.1"/>
<rect x="72" y="320.4" width="1" height="1.5"/>
<rect x="72" y="318.9" width="1" height="1"/>
<rect x="73" y="318.9" width="1" height="2.1"/>
<rect x="72" y="318.9" width="3" height="1"/>
<rect x="74" y="318.8" width="1" height="2.2"/>
<rect x="74" y="320.3" width="1" height="1.5"/>
<rect x="74" y="318.8" width="1" height="1"/>
<rect x="75" y="318.8" width="1" height="2.2"/>
<rect x="74" y="318.8" width="3" height="1"/>
<rect x="76" y="318.8" width="1" height="2.2"/>
<rect x="75" y="318.8" width="3" height="1"/>
<rect x="77" y="318.7" width="1" height="2.3"/>
<rect x="76" y="318.7" width="3" height="1"/>
<rect x="78" y="318.7" width="1" height="2.3"/>
<rect x="77" y="318.7" width="3" height="1"/>
<rect x="79" y="318.6" width="1" height="2.4"/>
<rect x="79" y="320.1" width="1" height="1.5"/>
<rect x="79" y="318.6" width="1" height="1"/>
<rect x="80" y="318.6" width="1" height="2.4"/>
<rect x="79" y="318.6" width="3" height="1"/>
<rect x="81" y="318.5" width="1" height="2.5"/>
<rect x="81" y="320.0" width="1" height="1.5"/>
<rect x="81" y="318.5" width="1" height="1"/>
<rect x="82" y="318.5" width="1" height="2.5"/>
<rect x="81" y="318.5" width="3" height="1"/>
<rect x="83" y="318.5" width="1" height="2.5"/>
<rect x="83" y="320.0" width="1" height="1.5"/>
<rect x="83" y="318.5" width="1" height="1"/>
<rect x="84" y="318.4" width="1" height="2.6"/>
<rect x="83" y="318.4" width="3" height="1"/>
<rect x="85" y="318.4" width="1" height="2.6"/>
<rect x="85" y="319.9" width="1" height="1.5"/>
<rect x="85" y="318.4" width="1" height="1"/>
<rect x="86" y="318.3" width="1" height="2.7"/>
<rect x="85" y="318.3" width="3" height="1"/>
<rect x="87" y="318.3" width="1" height="2.7"/>
<rect x="87" y="319.8" width="1" height="1.5"/>
<rect x="87" y="318.3" width="1" height="1"/>
<rect x="88" y="318.3" width="1" height="2.7"/>
<rect x="87" y="318.3" width="3" height="1"/>
<rect x="89" y="318.2" width="1" height="2.8"/>
<rect x="89" y="319.7" width="1" height="1.5"/>
<rect x="89" y="318.2" width="1" height="1"/>
<rect x="90" y="318.2" width="1" height="2.8"/>
<rect x="89" y="318.2" width="3" height="1"/>
<rect x="91" y="318.1" width="1" height="2.9"/>
<rect x="90" y="318.1" width="3" height="1"/>
<rect x="92" y="318.0" width="1" height="3.0"/>
<rect x="91" y="318.0" width="3" height="1"/>
<rect x="93" y="317.9" width="1" height="3.0"/>
<rect x="92" y="317.9" width="3" height="1"/>
<rect x="94" y="317.9" width="1" height="3.0"/>
<rect x="94" y="319.4" width="1" height="1.5"/>
<rect x="94" y="317.9" width="1" height="1"/>
<rect x="95" y="317.8" width="1" height="3.0"/>
<rect x="94" y="317.8" width="3" height="1"/>
<rect x="96" y="317.7" width="1" height="3.0"/>
<rect x="96" y="319.2" width="1" height="1.5"/>
<rect x="96" y="317.7" width="1" height="1"/>
<rect x="97" y="317.6" width="1" height="3.0"/>
<rect x="96" y="317.6" width="3" height="1"/>
<rect x="98" y="317.5" width="1" height="3.0"/>
<rect x="98" y="319.0" width="1" height="1.5"/>
<rect x="98" y="317.5" width="1" height="1"/>
<rect x="99" y="317.5" width="1" height="3.0"/>
<rect x="98" y="317.5" width="3" height="1"/>
<rect x="100" y="317.4" width="1" height="3.0"/>
<rect x="100" y="318.9" width="1" height="1.5"/>
<rect x="100" y="317.4" width="1" height="1"/>
<rect x="101" y="317.3" width="1" height="3.0"/>
<rect x="100" y="317.3" width="3" height="1"/>
<rect x="102" y="317.2" width="1" height="3.0"/>
<rect x="102" y="318.7" width="1" height="1.5"/>
<rect x="102" y="317.2" width="1" height="1"/>
<rect x="103" y="317.2" width="1" height="3.0"/>
<rect x="102" y="317.2" width="3" height="1"/>
<rect x="104" y="317.1" width="1" height="3.0"/>
<rect x="104" y="318.6" width="1" height="1.5"/>
<rect x="104" y="317.1" width="1" height="1"/>
<rect x="105" y="317.1" width="1" height="3.0"/>
<rect x="104" y="317.1" width="3" height="1"/>
<rect x="106" y="317.0" width="1" height="3.0"/>
<rect x="105" y="317.0" width="3" height="1"/>
<rect x="107" y="317.0" width="1" height="3.0"/>
<rect x="106" y="317.0" width="3" height="1"/>
<rect x="108" y="316.9" width="1" height="3.0"/>
<rect x="107" y="316.9" width="3" height="1"/>
<rect x="109" y="316.8" width="1" height="3.0"/>
<rect x="109" y="318.3" width="1" height="1.5"/>
<rect x="109" y="316.8" width="1" height="1"/>
<rect x="110" y="316.8" width="1" height="3.0"/>
<rect x="109" y="316.8" width="3" height="1"/>
<rect x="111" y="316.7" width="1" height="3.0"/>
<rect x="111" y="318.2" width="1" height="1.5"/>
<rect x="111" y="316.7" width="1" height="1"/>
<rect x="112" y="316.7" width="1" height="3.0"/>
<rect x="111" y="316.7" width="3" height="1"/>
<rect x="113" y="316.6" width="1" height="3.0"/>
<rect x="113" y="318.1" width="1" height="1.5"/>
<rect x="113" y="316.6" width="1" height="1"/>
<rect x="114" y="316.6" width="1" height="3.0"/>
<rect x="113" y="316.6" width="3" height="1"/>
<rect x="115" y="316.5" width="1" height="3.0"/>
<rect x="115" y="318.0" width="1" height="1.5"/>
<rect x="115" y="316.5" width="1" height="1"/>
<rect x="116" y="316.5" width="1" height="3.0"/>
<rect x="115" y="316.5" width="3" height="1"/>
<rect x="115" y="318.5" width="3" height="1"/>
<rect x="117" y="316.4" width="1" height="3.0"/>
<rect x="117" y="317.9" width="1" height="1.5"/>
<rect x="117" y="316.4" width="1" height="1"/>
<rect x="118" y="316.3" width="1" height="3.0"/>
<rect x="118" y="317.8" width="1" height="1.5"/>
<rect x="118" y="316.3" width="1" height="1"/>
<rect x="119" y="316.3" width="1" height="3.0"/>
<rect x="118" y="316.3" width="3" height="1"/>
<rect x="118" y="318.3" width="3" height="1"/>
<rect x="120" y="316.2" width="1" height="3.0"/>
<rect x="119" y="316.2" width="3" height="1"/>
<rect x="119" y="318.2" width="3" height="1"/>
<rect x="121" y="316.2" width="1" height="3.0"/>
<rect x="120" y="316.2" width="3" height="1"/>
<rect x="120" y="318.2" width="3" height="1"/>
<rect x="122" y="316.1" width="1" height="3.0"/>
<rect x="121" y="316.1" width="3" height="1"/>
<rect x="121" y="318.1" width="3" height="1"/>
<rect x="123" y="316.1" width="1" height="3.0"/>
<rect x="123" y="317.6" width="1" height="1.5"/>
<rect x="123" y="316.1" width="1" height="1"/>
<rect x="124" y="316.0" width="1" height="3.0"/>
<rect x="123" y="316.0" width="3" height="1"/>
<rect x="123" y="318.0" width="3" height="1"/>
<rect x="125" y="315.9" width="1" height="3.0"/>
<rect x="125" y="317.4" width="1" height="1.5"/>
<rect x="125" y="315.9" width="1" height="1"/>
<rect x="126" y="315.8" width="1" height="3.0"/>
<rect x="125" y="315.8" width="3" height="1"/>
<rect x="125" y="317.8" width="3" height="1"/>
<rect x="127" y="315.7" width="1" height="3.0"/>
<rect x="127" y="317.2" width="1" height="1.5"/>
<rect x="127" y="315.7" width="1" height="1"/>
<rect x="128" y="315.6" width="1" height="3.0"/>
<rect x="127" y="315.6" width="3" height="1"/>
<rect x="127" y="317.6" width="3" height="1"/>
<rect x="129" y="315.6" width="1" height="3.0"/>
<rect x="129" y="317.1" width="1" height="1.5"/>
<rect x="129" y="315.6" width="1" height="1"/>
<rect x="130" y="315.5" width="1" height="3.0"/>
<rect x="129" y="315.5" width="3" height="1"/>
<rect x="129" y="317.5" width="3" height="1"/>
<rect x="131" y="315.4" width="1" height="3.0"/>
<rect x="131" y="316.9" width="1" height="1.5"/>
<rect x="131" y="315.4" width="1" height="1"/>
<rect x="132" y="315.3" width="1" height="3.0"/>
<rect x="131" y="315.3" width="3" height="1"/>
<rect x="131" y="317.3" width="3" height="1"/>
<rect x="133" y="315.2" width="1" height="3.0"/>
<rect x="133" y="316.7" width="1" height="1.5"/>
<rect x="133" y="315.2" width="1" height="1"/>
<rect x="134" y="315.1" width="1" height="3.0"/>
<rect x="133" y="315.1" width="3" height="1"/>
<rect x="133" y="317.1" width="3" height="1"/>
<rect x="135" y="315.0" width="1" height="3.0"/>
<rect x="134" y="315.0" width="3" height="1"/>
<rect x="134" y="317.0" width="3" height="1"/>
<rect x="136" y="314.8" width="1" height="3.0"/>
<rect x="135" y="314.8" width="3" height="1"/>
<rect x="135" y="316.8" width="3" height="1"/>
<rect x="137" y="314.6" width="1" height="3.0"/>
<rect x="136" y="314.6" width="3" height="1"/>
<rect x="136" y="316.6" width="3" height="1"/>
<rect x="138" y="314.5" width="1" height="3.0"/>
<rect x="138" y="316.0" width="1" height="1.5"/>
<rect x="138" y="314.5" width="1" height="1"/>
<rect x="139" y="314.3" width="1" height="3.0"/>
<rect x="138" y="314.3" width="3" height="1"/>
<rect x="138" y="316.3" width="3" height="1"/>
<rect x="140" y="314.2" width="1" height="3.0"/>
<rect x="140" y="315.7" width="1" height="1.5"/>
<rect x="140" y="314.2" width="1" height="1"/>
<rect x="141" y="314.1" width="1" height="3.0"/>
<rect x="140" y="314.1" width="3" height="1"/>
<rect x="140" y="316.1" width="3" height="1"/>
<rect x="142" y="314.0" width="1" height="3.0"/>
<rect x="142" y="315.5" width="1" height="1.5"/>
<rect x="142" y="314.0" width="1" height="1"/>
<rect x="143" y="313.9" width="1" height="3.0"/>
<rect x="142" y="313.9" width="3" height="1"/>
<rect x="142" y="315.9" width="3" height="1"/>
<rect x="144" y="313.8" width="1" height="3.0"/>
<rect x="144" y="315.3" width="1" height="1.5"/>
<rect x="144" y="313.8" width="1" height="1"/>
<rect x="145" y="313.7" width="1" height="3.0"/>
<rect x="144" y="313.7" width="3" height="1"/>
<rect x="144" y="315.7" width="3" height="1"/>
<rect x="146" y="313.6" width="1" height="3.0"/>
<rect x="146" y="315.1" width="1" height="1.5"/>
<rect x="146" y="313.6" width="1" height="1"/>
<rect x="147" y="313.6" width="1" height="3.0"/>
<rect x="146" y="313.6" width="3" height="1"/>
<rect x="146" y="315.6" width="3" height="1"/>
<rect x="148" y="313.5" width="1" height="3.0"/>
<rect x="148" y="315.0" width="1" height="1.5"/>
<rect x="148" y="313.5" width="1" height="1"/>
<rect x="149" y="313.4" width="1" height="3.0"/>
<rect x="148" y="313.4" width="3" height="1"/>
<rect x="148" y="315.4" width="3" height="1"/>
<rect x="150" y="313.3" width="1" height="3.0"/>
<rect x="149" y="313.3" width="3" height="1"/>
<rect x="149" y="315.3" width="3" height="1"/>
<rect x="151" y="313.2" width="1" height="3.0"/>
<rect x="150" y="313.2" width="3" height="1"/>
<rect x="150" y="315.2" width="3" height="1"/>
<rect x="152" y="313.1" width="1" height="3.0"/>
<rect x="151" y="313.1" width="3" height="1"/>
<rect x="151" y="315.1" width="3" height="1"/>
<rect x="153" y="313.0" width="1" height="3.0"/>
<rect x="153" y="314.5" width="1" height="1.5"/>
<rect x="153" y="313.0" width="1" height="1"/>
<rect x="154" y="312.9" width="1" height="3.0"/>
<rect x="153" y="312.9" width="3" height="1"/>
<rect x="153" y="314.9" width="3" height="1"/>
<rect x="155" y="312.9" width="1" height="3.0"/>
<rect x="155" y="314.4" width="1" height="1.5"/>
<rect x="155" y="312.9" width="1" height="1"/>
<rect x="156" y="312.8" width="1" height="3.0"/>
<rect x="155" y="312.8" width="3" height="1"/>
<rect x="155" y="314.8" width="3" height="1"/>
<rect x="157" y="312.7" width="1" height="3.0"/>
<rect x="157" y="314.2" width="1" height="1.5"/>
<rect x="157" y="312.7" width="1" height="1"/>
<rect x="158" y="312.6" width="1" height="3.0"/>
<rect x="157" y="312.6" width="3" height="1"/>
<rect x="157" y="314.6" width="3" height="1"/>
<rect x="159" y="312.5" width="1" height="3.0"/>
<rect x="159" y="314.0" width="1" height="1.5"/>
<rect x="159" y="312.5" width="1" height="1"/>
<rect x="160" y="312.4" width="1" height="3.0"/>
<rect x="159" y="312.4" width="3" height="1"/>
<rect x="159" y="314.4" width="3" height="1"/>
<rect x="161" y="312.3" width="1" height="3.0"/>
<rect x="161" y="313.8" width="1" height="1.5"/>
<rect x="161" y="312.3" width="1" height="1"/>
<rect x="162" y="312.3" width="1" height="3.0"/>
<rect x="161" y="312.3" width="3" height="1"/>
<rect x="161" y="314.3" width="3" height="1"/>
<rect x="163" y="312.2" width="1" height="3.0"/>
<rect x="163" y="313.7" width="1" height="1.5"/>
<rect x="163" y="312.2" width="1" height="1"/>
<rect x="164" y="312.1" width="1" height="3.0"/>
<rect x="163" y="312.1" width="3" height="1"/>
<rect x="163" y="314.1" width="3" height="1"/>
<rect x="165" y="312.0" width="1" height="3.0"/>
<rect x="164" y="312.0" width="3" height="1"/>
<rect x="164" y="314.0" width="3" height="1"/>
<rect x="166" y="311.9" width="1" height="3.0"/>
<rect x="165" y="311.9" width="3" height="1"/>
<rect x="165" y="313.9" width="3" height="1"/>
<rect x="167" y="311.8" width="1" height="3.0"/>
<rect x="166" y="311.8" width="3" height="1"/>
<rect x="166" y="313.8" width="3" height="1"/>
<rect x="168" y="311.7" width="1" height="3.0"/>
<rect x="168" y="313.2" width="1" height="1.5"/>
<rect x="168" y="311.7" width="1" height="1"/>
<rect x="169" y="311.6" width="1" height="3.0"/>
<rect x="168" y="311.6" width="3" height="1"/>
<rect x="168" y="313.6" width="3" height="1"/>
<rect x="170" y="311.5" width="1" height="3.0"/>
<rect x="170" y="313.0" width="1" height="1.5"/>
<rect x="170" y="311.5" width="1" height="1"/>
<rect x="171" y="311.4" width="1" height="3.0"/>
<rect x="170" y="311.4" width="3" height="1"/>
<rect x="170" y="313.4" width="3" height="1"/>
<rect x="172" y="311.2" width="1" height="3.0"/>
<rect x="172" y="312.7" width="1" height="1.5"/>
<rect x="172" y="311.2" width="1" height="1"/>
<rect x="173" y="311.1" width="1" height="3.0"/>
<rect x="172" y="311.1" width="3" height="1"/>
<rect x="172" y="313.1" width="3" height="1"/>
<rect x="174" y="311.0" width="1" height="3.0"/>
<rect x="174" y="312.5" width="1" height="1.5"/>
<rect x="174" y="311.0" width="1" height="1"/>
<rect x="175" y="310.8" width="1" height="3.0"/>
<rect x="174" y="310.8" width="3" height="1"/>
<rect x="174" y="312.8" width="3" height="1"/>
<rect x="176" y="310.7" width="1" height="3.0"/>
<rect x="176" y="312.2" width="1" height="1.5"/>
<rect x="176" y="310.7" width="1" height="1"/>
<rect x="177" y="310.6" width="1" height="3.0"/>
<rect x="177" y="312.1" width="1" height="1.5"/>
<rect x="177" y="310.6" width="1" height="1"/>
<rect x="178" y="310.4" width="1" height="3.0"/>
<rect x="177" y="310.4" width="3" height="1"/>
<rect x="177" y="312.4" width="3" height="1"/>
<rect x="179" y="310.3" width="1" height="3.0"/>
<rect x="178" y="310.3" width="3" height="1"/>
<rect x="178" y="312.3" width="3" height="1"/>
<rect x="180" y="310.2" width="1" height="3.0"/>
<rect x="179" y="310.2" width="3" height="1"/>
<rect x="179" y="312.2" width="3" height="1"/>
<rect x="181" y="310.0" width="1" height="3.0"/>
<rect x="180" y="310.0" width="3" height="1"/>
<rect x="180" y="312.0" width="3" height="1"/>
<rect x="182" y="309.9" width="1" height="3.0"/>
<rect x="182" y="311.4" width="1" height="1.5"/>
<rect x="182" y="309.9" width="1" height="1"/>
<rect x="183" y="309.8" width="1" height="3.0"/>
<rect x="182" y="309.8" width="3" height="1"/>
<rect x="182" y="311.8" width="3" height="1"/>
<rect x="184" y="309.6" width="1" height="3.0"/>
<rect x="184" y="311.1" width="1" height="1.5"/>
<rect x="184" y="309.6" width="1" height="1"/>
<rect x="185" y="309.5" width="1" height="3.0"/>
<rect x="184" y="309.5" width="3" height="1"/>
<rect x="184" y="311.5" width="3" height="1"/>
<rect x="186" y="309.4" width="1" height="3.0"/>
<rect x="186" y="310.9" width="1" height="1.5"/>
<rect x="186" y="309.4" width="1" height="1"/>
<rect x="187" y="309.2" width="1" height="3.0"/>
<rect x="186" y="309.2" width="3" height="1"/>
<rect x="186" y="311.2" width="3" height="1"/>
<rect x="188" y="309.1" width="1" height="3.0"/>
<rect x="188" y="310.6" width="1" height="1.5"/>
<rect x="188" y="309.1" width="1" height="1"/>
<rect x="189" y="309.0" width="1" height="3.0"/>
<rect x="188" y="309.0" width="3" height="1"/>
<rect x="188" y="311.0" width="3" height="1"/>
<rect x="190" y="308.8" width="1" height="3.0"/>
<rect x="190" y="310.3" width="1" height="1.5"/>
<rect x="190" y="308.8" width="1" height="1"/>
<rect x="191" y="308.7" width="1" height="3.0"/>
<rect x="190" y="308.7" width="3" height="1"/>
<rect x="190" y="310.7" width="3" height="1"/>
<rect x="192" y="308.6" width="1" height="3.0"/>
<rect x="192" y="310.1" width="1" height="1.5"/>
<rect x="192" y="308.6" width="1" height="1"/>
<rect x="193" y="308.5" width="1" height="3.0"/>
<rect x="192" y="308.5" width="3" height="1"/>
<rect x="192" y="310.5" width="3" height="1"/>
<rect x="194" y="308.4" width="1" height="3.0"/>
<rect x="193" y="308.4" width="3" height="1"/>
<rect x="193" y="310.4" width="3" height="1"/>
<rect x="195" y="308.3" width="1" height="3.0"/>
<rect x="194" y="308.3" width="3" height="1"/>
<rect x="194" y="310.3" width="3" height="1"/>
<rect x="196" y="308.2" width="1" height="3.0"/>
<rect x="195" y="308.2" width="3" height="1"/>
<rect x="195" y="310.2" width="3" height="1"/>
<rect x="197" y="308.1" width="1" height="3.0"/>
<rect x="197" y="309.6" width="1" height="1.5"/>
<rect x="197" y="308.1" width="1" height="1"/>
<rect x="198" y="308.0" width="1" height="3.0"/>
<rect x="197" y="308.0" width="3" height="1"/>
<rect x="197" y="310.0" width="3" height="1"/>
<rect x="199" y="307.9" width="1" height="3.0"/>
<rect x="199" y="309.4" width="1" height="1.5"/>
<rect x="199" y="307.9" width="1" height="1"/>
<rect x="200" y="307.7" width="1" height="3.0"/>
<rect x="199" y="307.7" width="3" height="1"/>
<rect x="199" y="309.7" width="3" height="1"/>
<rect x="201" y="307.6" width="1" height="3.0"/>
<rect x="201" y="309.1" width="1" height="1.5"/>
<rect x="201" y="307.6" width="1" height="1"/>
<rect x="202" y="307.4" width="1" height="3.0"/>
<rect x="201" y="307.4" width="3" height="1"/>
<rect x="201" y="309.4" width="3" height="1"/>
<rect x="203" y="307.2" width="1" height="3.0"/>
<rect x="203" y="308.7" width="1" height="1.5"/>
<rect x="203" y="307.2" width="1" height="1"/>
<rect x="204" y="307.1" width="1" height="3.0"/>
<rect x="203" y="307.1" width="3" height="1"/>
<rect x="203" y="309.1" width="3" height="1"/>
<rect x="205" y="306.9" width="1" height="3.0"/>
<rect x="205" y="308.4" width="1" height="1.5"/>
<rect x="205" y="306.9" width="1" height="1"/>
<rect x="206" y="306.7" width="1" height="3.0"/>
<rect x="205" y="306.7" width="3" height="1"/>
<rect x="205" y="308.7" width="3" height="1"/>
<rect x="207" y="306.6" width="1" height="3.0"/>
<rect x="207" y="308.1" width="1" height="1.5"/>
<rect x="207" y="306.6" width="1" height="1"/>
<rect x="208" y="306.4" width="1" height="3.0"/>
<rect x="207" y="306.4" width="3" height="1"/>
<rect x="207" y="308.4" width="3" height="1"/>
<rect x="209" y="306.2" width="1" height="3.0"/>
<rect x="208" y="306.2" width="3" height="1"/>
<rect x="208" y="308.2" width="3" height="1"/>
<rect x="210" y="306.1" width="1" height="3.0"/>
<rect x="209" y="306.1" width="3" height="1"/>
<rect x="209" y="308.1" width="3" height="1"/>
<rect x="211" y="305.9" width="1" height="3.0"/>
<rect x="210" y="305.9" width="3" height="1"/>
<rect x="210" y="307.9" width="3" height="1"/>
<rect x="212" y="305.7" width="1" height="3.0"/>
<rect x="212" y="307.2" width="1" height="1.5"/>
<rect x="212" y="305.7" width="1" height="1"/>
<rect x="213" y="305.6" width="1" height="3.0"/>
<rect x="212" y="305.6" width="3" height="1"/>
<rect x="212" y="307.6" width="3" height="1"/>
<rect x="214" y="305.4" width="1" height="3.0"/>
<rect x="214" y="306.9" width="1" height="1.5"/>
<rect x="214" y="305.4" width="1" height="1"/>
<rect x="215" y="305.2" width="1" height="3.0"/>
<rect x="214" y="305.2" width="3" height="1"/>
<rect x="214" y="307.2" width="3" height="1"/>
<rect x="216" y="305.1" width="1" height="3.0"/>
<rect x="216" y="306.6" width="1" height="1.5"/>
<rect x="216" y="305.1" width="1" height="1"/>
<rect x="217" y="304.9" width="1" height="3.0"/>
<rect x="216" y="304.9" width="3" height="1"/>
<rect x="216" y="306.9" width="3" height="1"/>
<rect x="218" y="304.7" width="1" height="3.0"/>
<rect x="218" y="306.2" width="1" height="1.5"/>
<rect x="218" y="304.7" width="1" height="1"/>
<rect x="219" y="304.6" width="1" height="3.0"/>
<rect x="218" y="304.6" width="3" height="1"/>
<rect x="218" y="306.6" width="3" height="1"/>
<rect x="220" y="304.4" width="1" height="3.0"/>
<rect x="220" y="305.9" width="1" height="1.5"/>
<rect x="220" y="304.4" width="1" height="1"/>
<rect x="221" y="304.2" width="1" height="3.0"/>
<rect x="220" y="304.2" width="3" height="1"/>
<rect x="220" y="306.2" width="3" height="1"/>
<rect x="222" y="303.9" width="1" height="3.0"/>
<rect x="222" y="305.4" width="1" height="1.5"/>
<rect x="222" y="303.9" width="1" height="1"/>
<rect x="223" y="303.7" width="1" height="3.0"/>
<rect x="222" y="303.7" width="3" height="1"/>
<rect x="222" y="305.7" width="3" height="1"/>
<rect x="224" y="303.5" width="1" height="3.0"/>
<rect x="223" y="303.5" width="3" height="1"/>
<rect x="223" y="305.5" width="3" height="1"/>
<rect x="225" y="303.3" width="1" height="3.0"/>
<rect x="224" y="303.3" width="3" height="1"/>
<rect x="224" y="305.3" width="3" height="1"/>
<rect x="226" y="303.0" width="1" height="3.0"/>
<rect x="225" y="303.0" width="3" height="1"/>
<rect x="225" y="305.0" width="3" height="1"/>
<rect x="227" y="302.8" width="1" height="3.0"/>
<rect x="227" y="304.3" width="1" height="1.5"/>
<rect x="227" y="302.8" width="1" height="1"/>
<rect x="228" y="302.6" width="1" height="3.0"/>
<rect x="227" y="302.6" width="3" height="1"/>
<rect x="227" y="304.6" width="3" height="1"/>
<rect x="229" y="302.4" width="1" height="3.0"/>
<rect x="229" y="303.9" width="1" height="1.5"/>
<rect x="229" y="302.4" width="1" height="1"/>
<rect x="230" y="302.2" width="1" height="3.0"/>
<rect x="229" y="302.2" width="3" height="1"/>
<rect x="229" y="304.2" width="3" height="1"/>
<rect x="231" y="301.9" width="1" height="3.0"/>
<rect x="231" y="303.4" width="1" height="1.5"/>
<rect x="231" y="301.9" width="1" height="1"/>
<rect x="232" y="301.7" width="1" height="3.0"/>
<rect x="231" y="301.7" width="3" height="1"/>
<rect x="231" y="303.7" width="3" height="1"/>
<rect x="233" y="301.5" width="1" height="3.0"/>
<rect x="233" y="303.0" width="1" height="1.5"/>
<rect x="233" y="301.5" width="1" height="1"/>
<rect x="234" y="301.3" width="1" height="3.0"/>
<rect x="233" y="301.3" width="3" height="1"/>
<rect x="233" y="303.3" width="3" height="1"/>
<rect x="235" y="301.0" width="1" height="3.0"/>
<rect x="235" y="302.5" width="1" height="1.5"/>
<rect x="235" y="301.0" width="1" height="1"/>
<rect x="236" y="300.8" width="1" height="3.0"/>
<rect x="235" y="300.8" width="3" height="1"/>
<rect x="235" y="302.8" width="3" height="1"/>
<rect x="237" y="300.6" width="1" height="3.0"/>
<rect x="237" y="302.1" width="1" height="1.5"/>
<rect x="237" y="300.6" width="1" height="1"/>
<rect x="238" y="300.4" width="1" height="3.0"/>
<rect x="237" y="300.4" width="3" height="1"/>
<rect x="237" y="302.4" width="3" height="1"/>
<rect x="239" y="300.1" width="1" height="3.0"/>
<rect x="238" y="300.1" width="3" height="1"/>
<rect x="238" y="302.1" width="3" height="1"/>
<rect x="240" y="299.9" width="1" height="3.0"/>
<rect x="239" y="299.9" width="3" height="1"/>
<rect x="239" y="301.9" width="3" height="1"/>
<rect x="241" y="299.7" width="1" height="3.0"/>
<rect x="240" y="299.7" width="3" height="1"/>
<rect x="240" y="301.7" width="3" height="1"/>
<rect x="242" y="299.5" width="1" height="3.0"/>
<rect x="242" y="301.0" width="1" height="1.5"/>
<rect x="242" y="299.5" width="1" height="1"/>
<rect x="243" y="299.3" width="1" height="3.0"/>
<rect x="242" y="299.3" width="3" height="1"/>
<rect x="242" y="301.3" width="3" height="1"/>
<rect x="244" y="299.0" width="1" height="3.0"/>
<rect x="244" y="300.5" width="1" height="1.5"/>
<rect x="244" y="299.0" width="1" height="1"/>
<rect x="245" y="298.8" width="1" height="3.0"/>
<rect x="244" y="298.8" width="3" height="1"/>
<rect x="244" y="300.8" width="3" height="1"/>
<rect x="246" y="298.6" width="1" height="3.0"/>
<rect x="246" y="300.1" width="1" height="1.5"/>
<rect x="246" y="298.6" width="1" height="1"/>
<rect x="247" y="298.4" width="1" height="3.0"/>
<rect x="246" y="298.4" width="3" height="1"/>
<rect x="246" y="300.4" width="3" height="1"/>
<rect x="248" y="298.1" width="1" height="3.0"/>
<rect x="248" y="299.6" width="1" height="1.5"/>
<rect x="248" y="298.1" width="1" height="1"/>
<rect x="249" y="297.9" width="1" height="3.0"/>
<rect x="248" y="297.9" width="3" height="1"/>
<rect x="248" y="299.9" width="3" height="1"/>
<rect x="250" y="297.7" width="1" height="3.0"/>
<rect x="250" y="299.2" width="1" height="1.5"/>
<rect x="250" y="297.7" width="1" height="1"/>
<rect x="251" y="297.4" width="1" height="3.1"/>
<rect x="251" y="299.0" width="1" height="1.5"/>
<rect x="251" y="297.4" width="1" height="1"/>
<rect x="252" y="297.2" width="1" height="3.1"/>
<rect x="251" y="297.2" width="3" height="1"/>
<rect x="251" y="299.3" width="3" height="1"/>
<rect x="253" y="297.0" width="1" height="3.1"/>
<rect x="252" y="297.0" width="3" height="1"/>
<rect x="252" y="299.1" width="3" height="1"/>
<rect x="254" y="296.7" width="1" height="3.2"/>
<rect x="253" y="296.7" width="3" height="1"/>
<rect x="253" y="298.9" width="3" height="1"/>
<rect x="255" y="296.5" width="1" height="3.2"/>
<rect x="254" y="296.5" width="3" height="1"/>
<rect x="254" y="298.7" width="3" height="1"/>
<rect x="256" y="296.3" width="1" height="3.3"/>
<rect x="256" y="298.0" width="1" height="1.5"/>
<rect x="256" y="296.3" width="1" height="1"/>
<rect x="257" y="296.0" width="1" height="3.3"/>
<rect x="256" y="296.0" width="3" height="1"/>
<rect x="256" y="298.3" width="3" height="1"/>
<rect x="258" y="295.8" width="1" height="3.3"/>
<rect x="258" y="297.6" width="1" height="1.5"/>
<rect x="258" y="295.8" width="1" height="1"/>
<rect x="259" y="295.6" width="1" height="3.4"/>
<rect x="258" y="295.6" width="3" height="1"/>
<rect x="258" y="297.9" width="3" height="1"/>
<rect x="260" y="295.3" width="1" height="3.4"/>
<rect x="260" y="297.3" width="1" height="1.5"/>
<rect x="260" y="295.3" width="1" height="1"/>
<rect x="261" y="295.1" width="1" height="3.5"/>
<rect x="260" y="295.1" width="3" height="1"/>
<rect x="260" y="297.6" width="3" height="1"/>
<rect x="262" y="294.9" width="1" height="3.5"/>
<rect x="262" y="296.9" width="1" height="1.5"/>
<rect x="262" y="294.9" width="1" height="1"/>
<rect x="263" y="294.6" width="1" height="3.5"/>
<rect x="262" y="294.6" width="3" height="1"/>
<rect x="262" y="297.2" width="3" height="1"/>
<rect x="264" y="294.4" width="1" height="3.6"/>
<rect x="264" y="296.5" width="1" height="1.5"/>
<rect x="264" y="294.4" width="1" height="1"/>
<rect x="265" y="294.2" width="1" height="3.6"/>
<rect x="264" y="294.2" width="3" height="1"/>
<rect x="264" y="296.8" width="3" height="1"/>
<rect x="266" y="293.9" width="1" height="3.7"/>
<rect x="266" y="296.1" width="1" height="1.5"/>
<rect x="266" y="293.9" width="1" height="1"/>
<rect x="267" y="293.7" width="1" height="3.7"/>
<rect x="266" y="293.7" width="3" height="1"/>
<rect x="266" y="296.4" width="3" height="1"/>
<rect x="268" y="293.5" width="1" height="3.7"/>
<rect x="267" y="293.5" width="3" height="1"/>
<rect x="267" y="296.2" width="3" height="1"/>
<rect x="269" y="293.2" width="1" height="3.8"/>
<rect x="268" y="293.2" width="3" height="1"/>
<rect x="268" y="296.0" width="3" height="1"/>
<rect x="270" y="293.0" width="1" height="3.8"/>
<rect x="269" y="293.0" width="3" height="1"/>
<rect x="269" y="295.8" width="3" height="1"/>
<rect x="271" y="292.7" width="1" height="3.9"/>
<rect x="271" y="295.1" width="1" height="1.5"/>
<rect x="271" y="292.7" width="1" height="1"/>
<rect x="272" y="292.5" width="1" height="3.9"/>
<rect x="271" y="292.5" width="3" height="1"/>
<rect x="271" y="295.4" width="3" height="1"/>
<rect x="273" y="292.2" width="1" height="3.9"/>
<rect x="273" y="294.7" width="1" height="1.5"/>
<rect x="273" y="292.2" width="1" height="1"/>
<rect x="274" y="292.0" width="1" height="4.0"/>
<rect x="273" y="292.0" width="3" height="1"/>
<rect x="273" y="295.0" width="3" height="1"/>
<rect x="275" y="291.8" width="1" height="4.0"/>
<rect x="275" y="294.3" width="1" height="1.5"/>
<rect x="275" y="291.8" width="1" height="1"/>
<rect x="276" y="291.5" width="1" height="4.1"/>
<rect x="275" y="291.5" width="3" height="1"/>
<rect x="275" y="294.6" width="3" height="1"/>
<rect x="277" y="291.3" width="1" height="4.1"/>
<rect x="277" y="293.9" width="1" height="1.5000000000000226"/>
<rect x="277" y="291.3" width="1" height="1"/>
<rect x="278" y="291.0" width="1" height="4.1"/>
<rect x="277" y="291.0" width="3" height="1"/>
<rect x="277" y="294.2" width="3" height="1"/>
<rect x="279" y="290.8" width="1" height="4.2"/>
<rect x="279" y="293.4" width="1" height="1.5799999999999499"/>
<rect x="279" y="290.8" width="1" height="1"/>
<rect x="280" y="290.5" width="1" height="4.2"/>
<rect x="279" y="290.5" width="3" height="1"/>
<rect x="279" y="293.7" width="3" height="1"/>
<rect x="281" y="290.3" width="1" height="4.3"/>
<rect x="281" y="292.9" width="1" height="1.6599999999999908"/>
<rect x="281" y="290.3" width="1" height="1"/>
<rect x="282" y="290.0" width="1" height="4.3"/>
<rect x="281" y="290.0" width="3" height="1"/>
<rect x="281" y="293.3" width="3" height="1"/>
<rect x="283" y="289.8" width="1" height="4.3"/>
<rect x="282" y="289.8" width="3" height="1"/>
<rect x="282" y="293.1" width="3" height="1"/>
<rect x="284" y="289.5" width="1" height="4.4"/>
<rect x="283" y="289.5" width="3" height="1"/>
<rect x="283" y="292.9" width="3" height="1"/>
<rect x="285" y="289.3" width="1" height="4.4"/>
<rect x="284" y="289.3" width="3" height="1"/>
<rect x="284" y="292.7" width="3" height="1"/>
<rect x="286" y="289.1" width="1" height="4.5"/>
<rect x="286" y="291.7" width="1" height="1.8600000000000363"/>
<rect x="286" y="289.1" width="1" height="1"/>
<rect x="287" y="288.8" width="1" height="4.5"/>
<rect x="286" y="288.8" width="3" height="1"/>
<rect x="286" y="292.3" width="3" height="1"/>
<rect x="288" y="288.6" width="1" height="4.5" fill-opacity="0.10"/>
<rect x="288" y="291.2" width="1" height="1.9399999999999635"/>
<rect x="288" y="288.6" width="1" height="1"/>
<rect x="289" y="288.3" width="1" height="4.6"/>
<rect x="288" y="288.3" width="3" height="1"/>
<rect x="288" y="291.9" width="3" height="1"/>
<rect x="290" y="289.3" width="1" height="3.1"/>
<rect x="290" y="290.9" width="1" height="1.5"/>
<rect x="290" y="289.3" width="1" height="1"/>
<rect x="291" y="288.9" width="1" height="3.3"/>
<rect x="290" y="288.9" width="3" height="1"/>
<rect x="290" y="291.2" width="3" height="1"/>
<rect x="292" y="288.5" width="1" height="3.5"/>
<rect x="292" y="290.5" width="1" height="1.5"/>
<rect x="292" y="288.5" width="1" height="1"/>
<rect x="293" y="288.1" width="1" height="3.7"/>
<rect x="292" y="288.1" width="3" height="1"/>
<rect x="292" y="290.8" width="3" height="1"/>
<rect x="294" y="287.7" width="1" height="3.9" fill-opacity="0.10"/>
<rect x="294" y="290.1" width="1" height="1.5"/>
<rect x="294" y="287.7" width="1" height="1"/>
<rect x="295" y="287.3" width="1" height="4.1"/>
<rect x="294" y="287.3" width="3" height="1"/>
<rect x="294" y="290.4" width="3" height="1"/>
<rect x="296" y="286.9" width="1" height="4.3" fill-opacity="0.10"/>
<rect x="296" y="289.5" width="1" height="1.7000000000000113"/>
<rect x="296" y="286.9" width="1" height="1"/>
<rect x="297" y="286.5" width="1" height="4.5"/>
<rect x="296" y="286.5" width="3" height="1"/>
<rect x="296" y="290.0" width="3" height="1"/>
<rect x="298" y="286.1" width="1" height="4.7"/>
<rect x="297" y="286.1" width="3" height="1"/>
<rect x="297" y="289.8" width="3" height="1"/>
<rect x="299" y="285.7" width="1" height="4.9"/>
<rect x="298" y="285.7" width="3" height="1"/>
<rect x="298" y="289.6" width="3" height="1"/>
<rect x="300" y="285.3" width="1" height="5.0"/>
<rect x="299" y="285.3" width="3" height="1"/>
<rect x="299" y="289.4" width="3" height="1"/>
<rect x="301" y="285.0" width="1" height="5.1" fill-opacity="0.10"/>
<rect x="301" y="287.6" width="1" height="2.4749999999999885"/>
<rect x="301" y="285.0" width="1" height="1"/>
<rect x="302" y="284.6" width="1" height="5.1"/>
<rect x="301" y="284.6" width="3" height="1"/>
<rect x="301" y="288.8" width="3" height="1"/>
<rect x="303" y="284.3" width="1" height="5.2" fill-opacity="0.10"/>
<rect x="303" y="286.9" width="1" height="2.5750000000000113"/>
<rect x="303" y="284.3" width="1" height="1"/>
<rect x="304" y="283.9" width="1" height="5.2"/>
<rect x="303" y="283.9" width="3" height="1"/>
<rect x="303" y="288.1" width="3" height="1"/>
<rect x="305" y="283.6" width="1" height="5.3" fill-opacity="0.10"/>
<rect x="305" y="286.2" width="1" height="2.675000000000034"/>
<rect x="305" y="283.6" width="1" height="1"/>
<rect x="306" y="283.2" width="1" height="5.3"/>
<rect x="305" y="283.2" width="3" height="1"/>
<rect x="305" y="287.6" width="3" height="1"/>
<rect x="307" y="282.9" width="1" height="5.4" fill-opacity="0.10"/>
<rect x="307" y="285.5" width="1" height="2.775"/>
<rect x="307" y="282.9" width="1" height="1"/>
<rect x="308" y="282.5" width="1" height="5.4"/>
<rect x="307" y="282.5" width="3" height="1"/>
<rect x="307" y="286.9" width="3" height="1"/>
<rect x="309" y="282.2" width="1" height="5.5" fill-opacity="0.10"/>
<rect x="309" y="284.8" width="1" height="2.874999999999966"/>
<rect x="309" y="282.2" width="1" height="1"/>
<rect x="310" y="281.8" width="1" height="5.5" fill-opacity="0.10"/>
<rect x="310" y="284.4" width="1" height="2.925000000000034"/>
<rect x="310" y="281.8" width="1" height="1"/>
<rect x="311" y="281.5" width="1" height="5.6"/>
<rect x="310" y="281.5" width="3" height="1"/>
<rect x="310" y="286.1" width="3" height="1"/>
<rect x="312" y="281.1" width="1" height="5.6"/>
<rect x="311" y="281.1" width="3" height="1"/>
<rect x="311" y="285.8" width="3" height="1"/>
<rect x="313" y="280.8" width="1" height="5.7"/>
<rect x="312" y="280.8" width="3" height="1"/>
<rect x="312" y="285.4" width="3" height="1"/>
<rect x="314" y="280.4" width="1" height="5.7"/>
<rect x="313" y="280.4" width="3" height="1"/>
<rect x="313" y="285.1" width="3" height="1"/>
<rect x="315" y="280.1" width="1" height="5.8" fill-opacity="0.10"/>
<rect x="315" y="282.7" width="1" height="3.175000000000034"/>
<rect x="315" y="280.1" width="1" height="1"/>
<rect x="316" y="279.7" width="1" height="5.8"/>
<rect x="315" y="279.7" width="3" height="1"/>
<rect x="315" y="284.6" width="3" height="1"/>
<rect x="317" y="279.4" width="1" height="5.9" fill-opacity="0.10"/>
<rect x="317" y="282.0" width="1" height="3.275"/>
<rect x="317" y="279.4" width="1" height="1"/>
<rect x="318" y="279.0" width="1" height="5.9"/>
<rect x="317" y="279.0" width="3" height="1"/>
<rect x="317" y="283.9" width="3" height="1"/>
<rect x="319" y="278.7" width="1" height="6.0" fill-opacity="0.10"/>
<rect x="319" y="281.3" width="1" height="3.374999999999966"/>
<rect x="319" y="278.7" width="1" height="1"/>
<rect x="320" y="278.3" width="1" height="6.0"/>
<rect x="319" y="278.3" width="3" height="1"/>
<rect x="319" y="283.3" width="3" height="1"/>
<rect x="321" y="278.0" width="1" height="5.9" fill-opacity="0.10"/>
<rect x="321" y="280.6" width="1" height="3.331818181818187"/>
<rect x="321" y="278.0" width="1" height="1"/>
<rect x="322" y="277.6" width="1" height="5.9"/>
<rect x="321" y="277.6" width="3" height="1"/>
<rect x="321" y="282.5" width="3" height="1"/>
<rect x="323" y="277.2" width="1" height="5.8" fill-opacity="0.10"/>
<rect x="323" y="279.8" width="1" height="3.240909090909065"/>
<rect x="323" y="277.2" width="1" height="1"/>
<rect x="324" y="276.9" width="1" height="5.8"/>
<rect x="323" y="276.9" width="3" height="1"/>
<rect x="323" y="281.7" width="3" height="1"/>
<rect x="325" y="276.5" width="1" height="5.8" fill-opacity="0.10"/>
<rect x="325" y="279.1" width="1" height="3.15"/>
<rect x="325" y="276.5" width="1" height="1"/>
<rect x="326" y="276.1" width="1" height="5.7"/>
<rect x="325" y="276.1" width="3" height="1"/>
<rect x="325" y="280.8" width="3" height="1"/>
<rect x="327" y="275.8" width="1" height="5.7"/>
<rect x="326" y="275.8" width="3" height="1"/>
<rect x="326" y="280.4" width="3" height="1"/>
<rect x="328" y="275.4" width="1" height="5.6"/>
<rect x="327" y="275.4" width="3" height="1"/>
<rect x="327" y="280.0" width="3" height="1"/>
<rect x="329" y="275.0" width="1" height="5.6"/>
<rect x="328" y="275.0" width="3" height="1"/>
<rect x="328" y="279.6" width="3" height="1"/>
<rect x="330" y="274.7" width="1" height="5.5" fill-opacity="0.10"/>
<rect x="330" y="277.3" width="1" height="2.922727272727252"/>
<rect x="330" y="274.7" width="1" height="1"/>
<rect x="331" y="274.3" width="1" height="5.5"/>
<rect x="330" y="274.3" width="3" height="1"/>
<rect x="330" y="278.8" width="3" height="1"/>
<rect x="332" y="274.0" width="1" height="5.4" fill-opacity="0.10"/>
<rect x="332" y="276.6" width="1" height="2.831818181818187"/>
<rect x="332" y="274.0" width="1" height="1"/>
<rect x="333" y="273.6" width="1" height="5.4"/>
<rect x="332" y="273.6" width="3" height="1"/>
<rect x="332" y="278.0" width="3" height="1"/>
<rect x="334" y="273.2" width="1" height="5.3" fill-opacity="0.10"/>
<rect x="334" y="275.8" width="1" height="2.740909090909065"/>
<rect x="334" y="273.2" width="1" height="1"/>
<rect x="335" y="272.9" width="1" height="5.3"/>
<rect x="334" y="272.9" width="3" height="1"/>
<rect x="334" y="277.2" width="3" height="1"/>
<rect x="336" y="272.5" width="1" height="5.2" fill-opacity="0.10"/>
<rect x="336" y="275.1" width="1" height="2.65"/>
<rect x="336" y="272.5" width="1" height="1"/>
<rect x="337" y="272.1" width="1" height="5.2"/>
<rect x="336" y="272.1" width="3" height="1"/>
<rect x="336" y="276.3" width="3" height="1"/>
<rect x="338" y="271.8" width="1" height="5.2" fill-opacity="0.10"/>
<rect x="338" y="274.4" width="1" height="2.559090909090935"/>
<rect x="338" y="271.8" width="1" height="1"/>
<rect x="339" y="271.4" width="1" height="5.1"/>
<rect x="338" y="271.4" width="3" height="1"/>
<rect x="338" y="275.5" width="3" height="1"/>
<rect x="340" y="271.0" width="1" height="5.1" fill-opacity="0.10"/>
<rect x="340" y="273.6" width="1" height="2.468181818181813"/>
<rect x="340" y="271.0" width="1" height="1"/>
<rect x="341" y="270.7" width="1" height="5.0"/>
<rect x="340" y="270.7" width="3" height="1"/>
<rect x="340" y="274.7" width="3" height="1"/>
<rect x="342" y="270.3" width="1" height="5.1"/>
<rect x="341" y="270.3" width="3" height="1"/>
<rect x="341" y="274.4" width="3" height="1"/>
<rect x="343" y="269.8" width="1" height="5.4"/>
<rect x="342" y="269.8" width="3" height="1"/>
<rect x="342" y="274.2" width="3" height="1"/>
<rect x="344" y="269.3" width="1" height="5.6"/>
<rect x="343" y="269.3" width="3" height="1"/>
<rect x="343" y="273.9" width="3" height="1"/>
<rect x="345" y="268.9" width="1" height="5.8" fill-opacity="0.10"/>
<rect x="345" y="271.5" width="1" height="3.23760683760687"/>
<rect x="345" y="268.9" width="1" height="1"/>
<rect x="346" y="268.9" width="1" height="5.1"/>
<rect x="345" y="268.4" width="3" height="1"/>
<rect x="345" y="273.5" width="3" height="1"/>
<rect x="347" y="268.5" width="1" height="5.3" fill-opacity="0.10"/>
<rect x="348" y="268.0" width="1" height="5.6" fill-opacity="0.55"/>
<rect x="347" y="267.5" width="3" height="1"/>
<rect x="347" y="273.1" width="3" height="1"/>
<rect x="349" y="267.5" width="1" height="5.8" fill-opacity="0.10"/>
<rect x="350" y="267.1" width="1" height="6.0" fill-opacity="0.55"/>
<rect x="349" y="266.6" width="3" height="1"/>
<rect x="349" y="272.6" width="3" height="1"/>
<rect x="351" y="266.6" width="1" height="6.3" fill-opacity="0.10"/>
<rect x="352" y="266.2" width="1" height="6.5" fill-opacity="0.55"/>
<rect x="351" y="265.7" width="3" height="1"/>
<rect x="351" y="272.2" width="3" height="1"/>
<rect x="353" y="265.7" width="1" height="6.8" fill-opacity="0.10"/>
<rect x="354" y="265.2" width="1" height="7.0"/>
<rect x="353" y="264.7" width="3" height="1"/>
<rect x="353" y="271.7" width="3" height="1"/>
<rect x="355" y="264.7" width="1" height="7.3" fill-opacity="0.10"/>
<rect x="356" y="264.1" width="1" height="7.7" fill-opacity="0.52"/>
<rect x="355" y="263.6" width="3" height="1"/>
<rect x="355" y="271.3" width="3" height="1"/>
<rect x="357" y="263.4" width="1" height="8.1" fill-opacity="0.52"/>
<rect x="356" y="262.9" width="3" height="1"/>
<rect x="356" y="271.1" width="3" height="1"/>
<rect x="358" y="262.8" width="1" height="8.5" fill-opacity="0.52"/>
<rect x="357" y="262.3" width="3" height="1"/>
<rect x="357" y="270.8" width="3" height="1"/>
<rect x="359" y="262.2" width="1" height="8.9" fill-opacity="0.52"/>
<rect x="358" y="261.7" width="3" height="1"/>
<rect x="358" y="270.6" width="3" height="1"/>
<rect x="360" y="261.6" width="1" height="9.4" fill-opacity="0.10"/>
<rect x="361" y="260.9" width="1" height="9.9"/>
<rect x="360" y="260.4" width="3" height="1"/>
<rect x="360" y="270.4" width="3" height="1"/>
<rect x="362" y="260.3" width="1" height="10.5" fill-opacity="0.10"/>
<rect x="363" y="259.7" width="1" height="11.0" fill-opacity="0.55"/>
<rect x="362" y="259.2" width="3" height="1"/>
<rect x="362" y="270.2" width="3" height="1"/>
<rect x="364" y="259.1" width="1" height="11.6" fill-opacity="0.10"/>
<rect x="365" y="258.4" width="1" height="12.1" fill-opacity="0.55"/>
<rect x="364" y="257.9" width="3" height="1"/>
<rect x="364" y="270.0" width="3" height="1"/>
<rect x="366" y="257.8" width="1" height="12.6" fill-opacity="0.10"/>
<rect x="367" y="257.1" width="1" height="13.2" fill-opacity="0.55"/>
<rect x="366" y="256.6" width="3" height="1"/>
<rect x="366" y="269.9" width="3" height="1"/>
<rect x="368" y="256.3" width="1" height="13.9" fill-opacity="0.10"/>
<rect x="369" y="255.6" width="1" height="14.6"/>
<rect x="368" y="255.1" width="3" height="1"/>
<rect x="368" y="269.7" width="3" height="1"/>
<rect x="370" y="254.8" width="1" height="15.3" fill-opacity="0.10"/>
<rect x="371" y="254.0" width="1" height="16.0" fill-opacity="0.52"/>
<rect x="370" y="253.5" width="3" height="1"/>
<rect x="370" y="269.5" width="3" height="1"/>
<rect x="372" y="253.2" width="1" height="16.7" fill-opacity="0.52"/>
<rect x="371" y="252.8" width="3" height="1"/>
<rect x="371" y="269.4" width="3" height="1"/>
<rect x="373" y="252.5" width="1" height="17.4" fill-opacity="0.52"/>
<rect x="372" y="252.0" width="3" height="1"/>
<rect x="372" y="269.4" width="3" height="1"/>
<rect x="374" y="251.7" width="1" height="18.1" fill-opacity="0.52"/>
<rect x="373" y="251.2" width="3" height="1"/>
<rect x="373" y="269.3" width="3" height="1"/>
<rect x="375" y="250.9" width="1" height="18.8" fill-opacity="0.10"/>
<rect x="376" y="250.2" width="1" height="19.4"/>
<rect x="375" y="249.7" width="3" height="1"/>
<rect x="375" y="269.1" width="3" height="1"/>
<rect x="377" y="249.4" width="1" height="20.1" fill-opacity="0.10"/>
<rect x="378" y="248.4" width="1" height="21.0" fill-opacity="0.55"/>
<rect x="377" y="247.9" width="3" height="1"/>
<rect x="377" y="268.9" width="3" height="1"/>
<rect x="379" y="247.3" width="1" height="22.1" fill-opacity="0.10"/>
<rect x="380" y="246.1" width="1" height="23.2" fill-opacity="0.55"/>
<rect x="379" y="245.6" width="3" height="1"/>
<rect x="379" y="268.8" width="3" height="1"/>
<rect x="381" y="245.0" width="1" height="24.4" fill-opacity="0.10"/>
<rect x="382" y="243.9" width="1" height="25.7" fill-opacity="0.55"/>
<rect x="381" y="243.4" width="3" height="1"/>
<rect x="381" y="269.0" width="3" height="1"/>
<rect x="383" y="242.7" width="1" height="26.9" fill-opacity="0.10"/>
<rect x="384" y="241.6" width="1" height="28.1"/>
<rect x="383" y="241.1" width="3" height="1"/>
<rect x="383" y="269.2" width="3" height="1"/>
<rect x="385" y="240.4" width="1" height="29.4" fill-opacity="0.10"/>
<rect x="386" y="239.1" width="1" height="30.7" fill-opacity="0.52"/>
<rect x="385" y="238.6" width="3" height="1"/>
<rect x="385" y="269.4" width="3" height="1"/>
<rect x="387" y="237.9" width="1" height="32.1" fill-opacity="0.52"/>
<rect x="386" y="237.4" width="3" height="1"/>
<rect x="386" y="269.4" width="3" height="1"/>
<rect x="388" y="236.6" width="1" height="33.4" fill-opacity="0.52"/>
<rect x="387" y="236.1" width="3" height="1"/>
<rect x="387" y="269.5" width="3" height="1"/>
<rect x="389" y="235.4" width="1" height="34.7" fill-opacity="0.52"/>
<rect x="388" y="234.9" width="3" height="1"/>
<rect x="388" y="269.6" width="3" height="1"/>
<rect x="390" y="234.1" width="1" height="36.1" fill-opacity="0.10"/>
<rect x="391" y="232.9" width="1" height="37.4"/>
<rect x="390" y="232.4" width="3" height="1"/>
<rect x="390" y="269.8" width="3" height="1"/>
<rect x="392" y="231.6" width="1" height="38.7" fill-opacity="0.10"/>
<rect x="393" y="230.4" width="1" height="40.0" fill-opacity="0.55"/>
<rect x="392" y="229.9" width="3" height="1"/>
<rect x="392" y="269.9" width="3" height="1"/>
<rect x="394" y="229.3" width="1" height="41.2" fill-opacity="0.10"/>
<rect x="395" y="228.2" width="1" height="42.4" fill-opacity="0.55"/>
<rect x="394" y="227.7" width="3" height="1"/>
<rect x="394" y="270.1" width="3" height="1"/>
<rect x="396" y="227.1" width="1" height="43.6" fill-opacity="0.10"/>
<rect x="397" y="226.0" width="1" height="44.8" fill-opacity="0.55"/>
<rect x="396" y="225.5" width="3" height="1"/>
<rect x="396" y="270.3" width="3" height="1"/>
<rect x="398" y="224.9" width="1" height="46.1" fill-opacity="0.10"/>
<rect x="399" y="223.7" width="1" height="47.3"/>
<rect x="398" y="223.2" width="3" height="1"/>
<rect x="398" y="270.5" width="3" height="1"/>
<rect x="400" y="222.6" width="1" height="48.5" fill-opacity="0.10"/>
<rect x="401" y="221.5" width="1" height="49.8" fill-opacity="0.52"/>
<rect x="400" y="221.0" width="3" height="1"/>
<rect x="400" y="270.8" width="3" height="1"/>
<rect x="402" y="219.9" width="1" height="51.5" fill-opacity="0.52"/>
<rect x="401" y="219.4" width="3" height="1"/>
<rect x="401" y="270.9" width="3" height="1"/>
<rect x="403" y="218.2" width="1" height="53.3" fill-opacity="0.52"/>
<rect x="402" y="217.7" width="3" height="1"/>
<rect x="402" y="271.0" width="3" height="1"/>
<rect x="404" y="216.6" width="1" height="55.1" fill-opacity="0.52"/>
<rect x="403" y="216.1" width="3" height="1"/>
<rect x="403" y="271.1" width="3" height="1"/>
<rect x="405" y="214.9" width="1" height="56.8" fill-opacity="0.10"/>
<rect x="406" y="213.3" width="1" height="58.6"/>
<rect x="405" y="212.8" width="3" height="1"/>
<rect x="405" y="271.4" width="3" height="1"/>
<rect x="407" y="211.6" width="1" height="60.3" fill-opacity="0.10"/>
<rect x="408" y="210.0" width="1" height="62.1" fill-opacity="0.55"/>
<rect x="407" y="209.5" width="3" height="1"/>
<rect x="407" y="271.6" width="3" height="1"/>
<rect x="409" y="208.3" width="1" height="63.9" fill-opacity="0.10"/>
<rect x="410" y="206.5" width="1" height="65.8" fill-opacity="0.55"/>
<rect x="409" y="206.0" width="3" height="1"/>
<rect x="409" y="271.8" width="3" height="1"/>
<rect x="411" y="204.7" width="1" height="67.7" fill-opacity="0.10"/>
<rect x="412" y="202.8" width="1" height="69.7" fill-opacity="0.55"/>
<rect x="411" y="202.3" width="3" height="1"/>
<rect x="411" y="272.0" width="3" height="1"/>
<rect x="413" y="201.0" width="1" height="72.1" fill-opacity="0.10"/>
<rect x="414" y="199.2" width="1" height="75.0"/>
<rect x="413" y="198.7" width="3" height="1"/>
<rect x="413" y="273.6" width="3" height="1"/>
<rect x="415" y="197.3" width="1" height="77.9" fill-opacity="0.10"/>
<rect x="416" y="195.5" width="1" height="80.7" fill-opacity="0.52"/>
<rect x="415" y="195.0" width="3" height="1"/>
<rect x="415" y="275.7" width="3" height="1"/>
<rect x="417" y="193.6" width="1" height="83.3" fill-opacity="0.52"/>
<rect x="416" y="193.1" width="3" height="1"/>
<rect x="416" y="276.4" width="3" height="1"/>
<rect x="418" y="191.5" width="1" height="85.9" fill-opacity="0.52"/>
<rect x="417" y="191.0" width="3" height="1"/>
<rect x="417" y="276.9" width="3" height="1"/>
<rect x="419" y="189.2" width="1" height="88.7" fill-opacity="0.52"/>
<rect x="418" y="188.7" width="3" height="1"/>
<rect x="418" y="277.4" width="3" height="1"/>
<rect x="420" y="186.9" width="1" height="91.5" fill-opacity="0.10"/>
<rect x="421" y="184.5" width="1" height="94.0"/>
<rect x="420" y="184.0" width="3" height="1"/>
<rect x="420" y="278.1" width="3" height="1"/>
<rect x="422" y="182.2" width="1" height="96.3" fill-opacity="0.10"/>
<rect x="423" y="179.8" width="1" height="98.5" fill-opacity="0.55"/>
<rect x="422" y="179.3" width="3" height="1"/>
<rect x="422" y="277.9" width="3" height="1"/>
<rect x="424" y="177.5" width="1" height="100.8" fill-opacity="0.10"/>
<rect x="425" y="175.2" width="1" height="103.0" fill-opacity="0.55"/>
<rect x="424" y="174.7" width="3" height="1"/>
<rect x="424" y="277.7" width="3" height="1"/>
<rect x="426" y="172.7" width="1" height="105.4" fill-opacity="0.10"/>
<rect x="427" y="170.2" width="1" height="107.9"/>
<rect x="426" y="169.7" width="3" height="1"/>
<rect x="426" y="277.5" width="3" height="1"/>
<rect x="428" y="167.6" width="1" height="110.3" fill-opacity="0.10"/>
<rect x="429" y="165.1" width="1" height="112.7" fill-opacity="0.62"/>
<rect x="428" y="164.6" width="3" height="1"/>
<rect x="428" y="277.3" width="3" height="1"/>
<rect x="430" y="162.5" width="1" height="115.1" fill-opacity="0.62"/>
<rect x="429" y="162.0" width="3" height="1"/>
<rect x="429" y="277.2" width="3" height="1"/>
<rect x="431" y="160.0" width="1" height="117.6" fill-opacity="0.62"/>
<rect x="430" y="159.5" width="3" height="1"/>
<rect x="430" y="277.1" width="3" height="1"/>
<rect x="432" y="157.4" width="1" height="120.0" fill-opacity="0.62"/>
<rect x="431" y="156.9" width="3" height="1"/>
<rect x="431" y="276.9" width="3" height="1"/>
<rect x="433" y="154.4" width="1" height="122.9" fill-opacity="0.62"/>
<rect x="432" y="153.9" width="3" height="1"/>
<rect x="432" y="276.8" width="3" height="1"/>
<rect x="434" y="151.4" width="1" height="125.8" fill-opacity="0.62"/>
<rect x="433" y="150.9" width="3" height="1"/>
<rect x="433" y="276.7" width="3" height="1"/>
<rect x="435" y="148.3" width="1" height="128.7" fill-opacity="0.10"/>
<rect x="436" y="145.3" width="1" height="132.5"/>
<rect x="435" y="144.8" width="3" height="1"/>
<rect x="435" y="277.3" width="3" height="1"/>
<rect x="437" y="142.3" width="1" height="137.2" fill-opacity="0.10"/>
<rect x="438" y="139.3" width="1" height="141.9" fill-opacity="0.55"/>
<rect x="437" y="138.8" width="3" height="1"/>
<rect x="437" y="280.7" width="3" height="1"/>
<rect x="439" y="135.9" width="1" height="147.0" fill-opacity="0.10"/>
<rect x="440" y="132.4" width="1" height="152.3" fill-opacity="0.55"/>
<rect x="439" y="131.9" width="3" height="1"/>
<rect x="439" y="284.1" width="3" height="1"/>
<rect x="441" y="128.9" width="1" height="157.5" fill-opacity="0.10"/>
<rect x="442" y="125.4" width="1" height="162.7"/>
<rect x="441" y="124.9" width="3" height="1"/>
<rect x="441" y="287.6" width="3" height="1"/>
<rect x="443" y="121.1" width="1" height="168.6" fill-opacity="0.10"/>
<rect x="444" y="116.5" width="1" height="174.4" fill-opacity="0.62"/>
<rect x="443" y="116.0" width="3" height="1"/>
<rect x="443" y="290.4" width="3" height="1"/>
<rect x="445" y="111.9" width="1" height="180.2" fill-opacity="0.62"/>
<rect x="444" y="111.4" width="3" height="1"/>
<rect x="444" y="291.6" width="3" height="1"/>
<rect x="446" y="107.4" width="1" height="186.0" fill-opacity="0.62"/>
<rect x="445" y="106.9" width="3" height="1"/>
<rect x="445" y="292.9" width="3" height="1"/>
<rect x="447" y="102.3" width="1" height="192.3" fill-opacity="0.62"/>
<rect x="446" y="101.8" width="3" height="1"/>
<rect x="446" y="294.1" width="3" height="1"/>
<rect x="448" y="97.1" width="1" height="198.7" fill-opacity="0.62"/>
<rect x="447" y="96.6" width="3" height="1"/>
<rect x="447" y="295.3" width="3" height="1"/>
<rect x="449" y="91.9" width="1" height="205.1" fill-opacity="0.62"/>
<rect x="448" y="91.4" width="3" height="1"/>
<rect x="448" y="296.4" width="3" height="1"/>
<rect x="450" y="86.6" width="1" height="211.5" fill-opacity="0.10"/>
<rect x="451" y="80.5" width="1" height="219.5"/>
<rect x="450" y="80.0" width="3" height="1"/>
<rect x="450" y="299.5" width="3" height="1"/>
<rect x="452" y="73.5" width="1" height="229.2" fill-opacity="0.10"/>
<rect x="453" y="66.5" width="1" height="239.2" fill-opacity="0.55"/>
<rect x="452" y="66.0" width="3" height="1"/>
<rect x="452" y="305.2" width="3" height="1"/>
<rect x="454" y="59.5" width="1" height="249.5" fill-opacity="0.10"/>
<rect x="455" y="51.9" width="1" height="263.1" fill-opacity="0.55"/>
<rect x="454" y="51.4" width="3" height="1"/>
<rect x="454" y="314.5" width="3" height="1"/>
<rect x="456" y="43.6" width="1" height="277.4" fill-opacity="0.10"/>
<rect x="457" y="35.8" width="1" height="285.2"/>
<rect x="456" y="35.2" width="3" height="1"/>
<rect x="458" y="28.2" width="1" height="292.8" fill-opacity="0.10"/>
<rect x="459" y="19.3" width="1" height="301.7" fill-opacity="0.16"/>
<rect x="460" y="10.0" width="1" height="311.0"/>
<rect x="461" y="10.0" width="1" height="311.0"/>
<rect x="462" y="10.0" width="1" height="311.0"/>
<rect x="463" y="10.0" width="1" height="311.0"/>
<rect x="464" y="10.0" width="1" height="311.0"/>
<rect x="465" y="10.0" width="1" height="311.0"/>
<rect x="466" y="10.0" width="1" height="311.0" fill-opacity="0.16"/>
<rect x="467" y="10.0" width="1" height="311.0"/>
<rect x="468" y="10.0" width="1" height="311.0" fill-opacity="0.16"/>
<rect x="469" y="10.0" width="1" height="311.0"/>
<rect x="470" y="10.0" width="1" height="311.0" fill-opacity="0.16"/>
<rect x="471" y="10.0" width="1" height="311.0" fill-opacity="0.60"/>
<rect x="472" y="10.0" width="1" height="311.0"/>
<rect x="473" y="10.0" width="1" height="311.0" fill-opacity="0.16"/>
<rect x="474" y="10.0" width="1" height="311.0"/>
<rect x="475" y="10.0" width="1" height="311.0"/>
<rect x="476" y="10.0" width="1" height="311.0"/>
<rect x="477" y="10.0" width="1" height="311.0"/>
<rect x="478" y="10.0" width="1" height="311.0"/>
<rect x="479" y="10.0" width="1" height="311.0"/>
<rect x="480" y="10.0" width="1" height="311.0"/>
<rect x="481" y="10.0" width="1" height="311.0" fill-opacity="0.16"/>
<rect x="482" y="10.0" width="1" height="311.0"/>
<rect x="483" y="10.0" width="1" height="311.0" fill-opacity="0.16"/>
<rect x="484" y="10.0" width="1" height="311.0"/>
<rect x="485" y="10.0" width="1" height="311.0" fill-opacity="0.16"/>
<rect x="486" y="10.0" width="1" height="311.0" fill-opacity="0.60"/>
<rect x="487" y="10.0" width="1" height="311.0"/>
<rect x="488" y="10.0" width="1" height="311.0" fill-opacity="0.16"/>
<rect x="489" y="10.0" width="1" height="311.0"/>
<rect x="490" y="10.0" width="1" height="311.0"/>
<rect x="491" y="10.0" width="1" height="311.0"/>
<rect x="492" y="10.0" width="1" height="311.0"/>
<rect x="493" y="10.0" width="1" height="311.0"/>
<rect x="494" y="10.0" width="1" height="311.0"/>
<rect x="495" y="10.0" width="1" height="311.0" fill-opacity="0.16"/>
</g>
</g>
<g fill="#000" shape-rendering="crispEdges">
<rect x="67" y="11" width="428" height="1"/>
<rect x="67" y="318.5" width="428" height="1.5"/>
<rect x="67" y="11" width="1" height="308"/>
<rect x="494.5" y="11" width="1.5" height="308"/>
<rect x="174.2" y="12" width="1" height="5"/>
<rect x="174.2" y="314.5" width="1" height="4.5" fill-opacity="0.75"/>
<rect x="281.0" y="12" width="1" height="5"/>
<rect x="281.0" y="314.5" width="1" height="4.5" fill-opacity="0.75"/>
<rect x="387.8" y="12" width="1" height="5"/>
<rect x="387.8" y="314.5" width="1" height="4.5" fill-opacity="0.75"/>
<rect x="491.8" y="266.9" width="4" height="1.7"/>
<rect x="491.8" y="215.8" width="4" height="1.7"/>
<rect x="491.8" y="164.6" width="4" height="1.7"/>
<rect x="491.8" y="113.4" width="4" height="1.7"/>
<rect x="491.8" y="62.2" width="4" height="1.7"/>
</g>
<text transform="translate(344,134.8) rotate(-90) scale(1,1.12)" text-anchor="end" font-family="Liberation Sans, sans-serif" font-size="17.5" fill="#000" stroke="#000" stroke-width="0.45"><tspan font-size="15.5">χ</tspan><tspan font-size="13.5" dy="-7.8">B</tspan><tspan font-size="13.5" dx="-9" dy="12.3">2</tspan><tspan dy="-4.5" dx="9">/T</tspan><tspan font-size="15" dy="-6.5">2</tspan></text>
<text transform="translate(405,134.8) rotate(-90) scale(1,1.12)" text-anchor="end" font-family="Liberation Sans, sans-serif" font-size="17.5" fill="#000" stroke="#000" stroke-width="0.45"><tspan letter-spacing="1">n/T</tspan><tspan font-size="15" dy="-6.5">3</tspan></text>
<text transform="translate(476,134.8) rotate(-90) scale(1,1.12)" text-anchor="end" font-family="Liberation Sans, sans-serif" font-size="17.5" fill="#000" stroke="#000" stroke-width="0.45"><tspan letter-spacing="0.9">ΔP/T</tspan><tspan font-size="15" dy="-6.5">4</tspan></text>
</svg>
</body></html>
